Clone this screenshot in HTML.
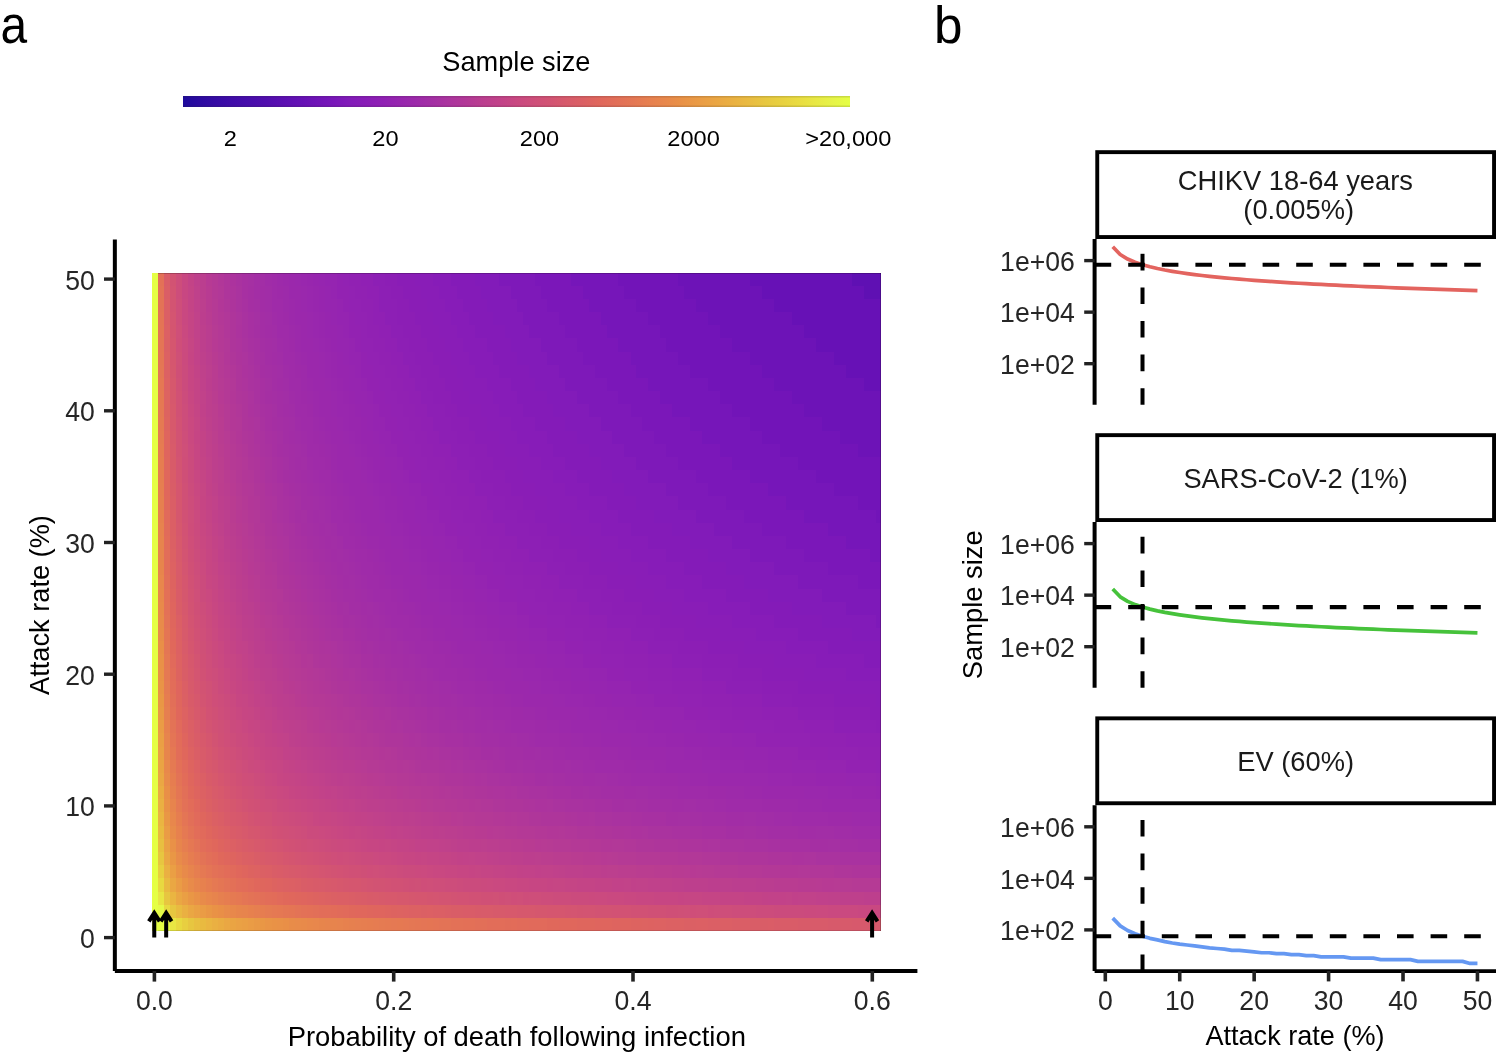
<!DOCTYPE html>
<html><head><meta charset="utf-8"><style>
html,body{margin:0;padding:0;background:#fff;}
#root{position:relative;width:1500px;height:1056px;overflow:hidden;background:#fff;font-family:"Liberation Sans",sans-serif;}
svg text{font-family:"Liberation Sans",sans-serif;}
</style></head><body><div id="root">
<div style="position:absolute;left:151.50px;top:273px;width:729.75px;height:13px;background:linear-gradient(90deg,#e5ff44 0.0px 5.9px,#e37157 5.9px 11.8px,#d95d67 11.8px 17.8px,#d25373 17.8px 23.8px,#cd4d7b 23.8px 29.8px,#c84782 29.8px 35.8px,#c34387 35.8px 41.8px,#be408c 41.8px 47.7px,#bb3e8f 47.7px 53.7px,#b73a94 53.7px 59.7px,#b43996 59.7px 65.7px,#b13799 65.7px 71.7px,#ae359b 71.7px 77.7px,#ac339e 77.7px 83.6px,#a932a0 83.6px 89.6px,#a730a2 89.6px 95.6px,#a530a3 95.6px 101.6px,#a32ea5 101.6px 107.6px,#a22ea6 107.6px 113.5px,#a02ca8 113.5px 119.5px,#9f2ba9 119.5px 125.5px,#9d2aaa 125.5px 131.5px,#9c29ab 131.5px 137.5px,#9b28ac 137.5px 143.5px,#9a28ad 143.5px 149.4px,#9927ae 149.4px 155.4px,#9826ae 155.4px 161.4px,#9725af 161.4px 167.4px,#9625b0 167.4px 173.4px,#9524b1 173.4px 185.3px,#9322b2 185.3px 191.3px,#9222b3 191.3px 197.3px,#9121b3 197.3px 209.3px,#9020b4 209.3px 221.2px,#8d1fb5 221.2px 233.2px,#8c1eb5 233.2px 245.2px,#8a1db6 245.2px 263.1px,#891db7 263.1px 281.1px,#871cb8 281.1px 299.0px,#841bb8 299.0px 322.9px,#821bb9 322.9px 346.9px,#7e19b9 346.9px 382.8px,#7b17b9 382.8px 418.7px,#7616b9 418.7px 466.5px,#7214b8 466.5px 526.3px,#6d13b7 526.3px 598.1px,#6711b6 598.1px 699.8px,#5f10b3 699.8px 729.7px)"></div>
<div style="position:absolute;left:151.50px;top:286px;width:729.75px;height:13px;background:linear-gradient(90deg,#e5ff44 0.0px 5.9px,#e37356 5.9px 11.8px,#da5e66 11.8px 17.8px,#d35472 17.8px 23.8px,#cd4d7b 23.8px 29.8px,#c84782 29.8px 35.8px,#c44486 35.8px 41.8px,#bf418b 41.8px 47.7px,#bb3e8f 47.7px 53.7px,#b83b92 53.7px 59.7px,#b43996 59.7px 65.7px,#b23898 65.7px 71.7px,#ae359b 71.7px 77.7px,#ad349d 77.7px 83.6px,#aa339f 83.6px 89.6px,#a730a2 89.6px 95.6px,#a52fa3 95.6px 101.6px,#a32ea5 101.6px 107.6px,#a22da6 107.6px 113.5px,#a12da7 113.5px 119.5px,#9f2ba9 119.5px 125.5px,#9e2aa9 125.5px 131.5px,#9d2aaa 131.5px 137.5px,#9b28ac 137.5px 149.4px,#9a28ad 149.4px 155.4px,#9927ae 155.4px 161.4px,#9826ae 161.4px 167.4px,#9725af 167.4px 173.4px,#9625b0 173.4px 179.4px,#9524b1 179.4px 185.3px,#9322b2 185.3px 197.3px,#9222b3 197.3px 203.3px,#9121b3 203.3px 215.3px,#9020b4 215.3px 227.2px,#8d1fb5 227.2px 239.2px,#8c1eb5 239.2px 251.1px,#8a1db6 251.1px 269.1px,#891db7 269.1px 287.0px,#871cb8 287.0px 305.0px,#841bb8 305.0px 328.9px,#821bb9 328.9px 358.8px,#7e19b9 358.8px 388.7px,#7b17b9 388.7px 430.6px,#7616b9 430.6px 472.5px,#7214b8 472.5px 532.3px,#6d13b7 532.3px 610.1px,#6711b6 610.1px 711.8px,#5f10b3 711.8px 729.7px)"></div>
<div style="position:absolute;left:151.50px;top:299px;width:729.75px;height:13px;background:linear-gradient(90deg,#e5ff44 0.0px 5.9px,#e37356 5.9px 11.8px,#db5f65 11.8px 17.8px,#d35472 17.8px 23.8px,#ce4e7a 23.8px 29.8px,#c94881 29.8px 35.8px,#c44486 35.8px 41.8px,#c0418b 41.8px 47.7px,#bc3f8e 47.7px 53.7px,#b83b92 53.7px 59.7px,#b53a95 59.7px 65.7px,#b23798 65.7px 71.7px,#af369a 71.7px 77.7px,#ad349c 77.7px 83.6px,#aa339f 83.6px 89.6px,#a831a1 89.6px 95.6px,#a52fa3 95.6px 101.6px,#a42fa4 101.6px 107.6px,#a22da6 107.6px 113.5px,#a12da7 113.5px 119.5px,#9f2ba9 119.5px 131.5px,#9d2aaa 131.5px 137.5px,#9c29ab 137.5px 143.5px,#9b28ac 143.5px 149.4px,#9a28ad 149.4px 155.4px,#9927ae 155.4px 161.4px,#9826ae 161.4px 167.4px,#9725af 167.4px 173.4px,#9625b0 173.4px 185.3px,#9524b1 185.3px 191.3px,#9322b2 191.3px 197.3px,#9222b3 197.3px 209.3px,#9121b3 209.3px 221.2px,#9020b4 221.2px 227.2px,#8d1fb5 227.2px 245.2px,#8c1eb5 245.2px 257.1px,#8a1db6 257.1px 275.1px,#891db7 275.1px 293.0px,#871cb8 293.0px 311.0px,#841bb8 311.0px 334.9px,#821bb9 334.9px 364.8px,#7e19b9 364.8px 394.7px,#7b17b9 394.7px 436.6px,#7616b9 436.6px 484.5px,#7214b8 484.5px 544.3px,#6d13b7 544.3px 622.1px,#6711b6 622.1px 729.7px)"></div>
<div style="position:absolute;left:151.50px;top:312px;width:729.75px;height:13px;background:linear-gradient(90deg,#e5ff44 0.0px 5.9px,#e47455 5.9px 11.8px,#db5f65 11.8px 17.8px,#d45571 17.8px 23.8px,#ce4e7a 23.8px 29.8px,#c94881 29.8px 35.8px,#c54585 35.8px 41.8px,#c1428a 41.8px 47.7px,#bc3e8e 47.7px 53.7px,#b93c91 53.7px 59.7px,#b53a95 59.7px 65.7px,#b33897 65.7px 71.7px,#b13799 71.7px 77.7px,#ae359b 77.7px 83.6px,#ac349e 83.6px 89.6px,#a932a0 89.6px 95.6px,#a730a2 95.6px 101.6px,#a530a3 101.6px 107.6px,#a32ea5 107.6px 113.5px,#a22ea6 113.5px 119.5px,#a02ca8 119.5px 125.5px,#9f2ba9 125.5px 131.5px,#9e2aa9 131.5px 137.5px,#9c29ab 137.5px 143.5px,#9b28ac 143.5px 155.4px,#9a28ad 155.4px 161.4px,#9927ae 161.4px 167.4px,#9826ae 167.4px 173.4px,#9725af 173.4px 179.4px,#9625b0 179.4px 185.3px,#9524b1 185.3px 197.3px,#9322b2 197.3px 203.3px,#9222b3 203.3px 215.3px,#9121b3 215.3px 221.2px,#9020b4 221.2px 233.2px,#8d1fb5 233.2px 245.2px,#8c1eb5 245.2px 263.1px,#8a1db6 263.1px 281.1px,#891db7 281.1px 299.0px,#871cb8 299.0px 317.0px,#841bb8 317.0px 340.9px,#821bb9 340.9px 370.8px,#7e19b9 370.8px 406.7px,#7b17b9 406.7px 448.6px,#7616b9 448.6px 496.4px,#7214b8 496.4px 556.3px,#6d13b7 556.3px 640.0px,#6711b6 640.0px 729.7px)"></div>
<div style="position:absolute;left:151.50px;top:325px;width:729.75px;height:13px;background:linear-gradient(90deg,#e5ff44 0.0px 5.9px,#e47554 5.9px 11.8px,#dc6064 11.8px 17.8px,#d45570 17.8px 23.8px,#cf4f79 23.8px 29.8px,#ca4980 29.8px 35.8px,#c54585 35.8px 41.8px,#c1428a 41.8px 47.7px,#bd3f8d 47.7px 53.7px,#ba3d90 53.7px 59.7px,#b63b94 59.7px 65.7px,#b43996 65.7px 71.7px,#b13799 71.7px 77.7px,#ae359b 77.7px 83.6px,#ac339e 83.6px 89.6px,#a932a0 89.6px 95.6px,#a730a2 95.6px 101.6px,#a52fa3 101.6px 107.6px,#a32ea5 107.6px 113.5px,#a22da6 113.5px 119.5px,#a12da7 119.5px 125.5px,#9f2ba9 125.5px 137.5px,#9d2aaa 137.5px 143.5px,#9c29ab 143.5px 149.4px,#9b28ac 149.4px 155.4px,#9a28ad 155.4px 161.4px,#9927ae 161.4px 167.4px,#9826ae 167.4px 173.4px,#9725af 173.4px 185.3px,#9625b0 185.3px 191.3px,#9524b1 191.3px 197.3px,#9322b2 197.3px 209.3px,#9222b3 209.3px 215.3px,#9121b3 215.3px 227.2px,#9020b4 227.2px 239.2px,#8d1fb5 239.2px 251.1px,#8c1eb5 251.1px 269.1px,#8a1db6 269.1px 287.0px,#891db7 287.0px 305.0px,#871cb8 305.0px 322.9px,#841bb8 322.9px 352.8px,#821bb9 352.8px 376.8px,#7e19b9 376.8px 412.7px,#7b17b9 412.7px 454.6px,#7616b9 454.6px 508.4px,#7214b8 508.4px 568.2px,#6d13b7 568.2px 652.0px,#6711b6 652.0px 729.7px)"></div>
<div style="position:absolute;left:151.50px;top:338px;width:729.75px;height:14px;background:linear-gradient(90deg,#e5ff44 0.0px 5.9px,#e47555 5.9px 11.8px,#db6064 11.8px 17.8px,#d5566f 17.8px 23.8px,#cf4e79 23.8px 29.8px,#cb4a7f 29.8px 35.8px,#c64684 35.8px 41.8px,#c24289 41.8px 47.7px,#bd3f8d 47.7px 53.7px,#ba3d90 53.7px 59.7px,#b73a94 59.7px 65.7px,#b43996 65.7px 71.7px,#b23898 71.7px 77.7px,#ae359b 77.7px 83.6px,#ad349d 83.6px 89.6px,#aa339f 89.6px 95.6px,#a831a1 95.6px 101.6px,#a730a2 101.6px 107.6px,#a42fa4 107.6px 113.5px,#a32ea5 113.5px 119.5px,#a22ea6 119.5px 125.5px,#a02ca8 125.5px 131.5px,#9f2ba9 131.5px 137.5px,#9e2aa9 137.5px 143.5px,#9c29ab 143.5px 149.4px,#9b28ac 149.4px 161.4px,#9a28ad 161.4px 167.4px,#9927ae 167.4px 173.4px,#9826ae 173.4px 179.4px,#9725af 179.4px 185.3px,#9625b0 185.3px 197.3px,#9524b1 197.3px 203.3px,#9322b2 203.3px 209.3px,#9222b3 209.3px 221.2px,#9121b3 221.2px 233.2px,#9020b4 233.2px 245.2px,#8d1fb5 245.2px 257.1px,#8c1eb5 257.1px 275.1px,#8a1db6 275.1px 293.0px,#891db7 293.0px 311.0px,#871cb8 311.0px 334.9px,#841bb8 334.9px 358.8px,#821bb9 358.8px 388.7px,#7e19b9 388.7px 424.6px,#7b17b9 424.6px 466.5px,#7616b9 466.5px 514.4px,#7214b8 514.4px 580.2px,#6d13b7 580.2px 663.9px,#6711b6 663.9px 729.7px)"></div>
<div style="position:absolute;left:151.50px;top:352px;width:729.75px;height:13px;background:linear-gradient(90deg,#e5ff44 0.0px 5.9px,#e47654 5.9px 11.8px,#dc6163 11.8px 17.8px,#d5566f 17.8px 23.8px,#cf5077 23.8px 29.8px,#cb4a7e 29.8px 35.8px,#c64584 35.8px 41.8px,#c24289 41.8px 47.7px,#be408c 47.7px 53.7px,#bb3e8f 53.7px 59.7px,#b83b92 59.7px 65.7px,#b53a95 65.7px 71.7px,#b23798 71.7px 77.7px,#af369a 77.7px 83.6px,#ad349c 83.6px 89.6px,#ac349e 89.6px 95.6px,#a932a0 95.6px 101.6px,#a730a2 101.6px 107.6px,#a530a3 107.6px 113.5px,#a32ea5 113.5px 119.5px,#a22da6 119.5px 125.5px,#a12da7 125.5px 131.5px,#9f2ba9 131.5px 143.5px,#9d2aaa 143.5px 149.4px,#9c29ab 149.4px 155.4px,#9b28ac 155.4px 167.4px,#9a28ad 167.4px 173.4px,#9927ae 173.4px 179.4px,#9826ae 179.4px 185.3px,#9725af 185.3px 191.3px,#9625b0 191.3px 197.3px,#9524b1 197.3px 209.3px,#9322b2 209.3px 215.3px,#9222b3 215.3px 227.2px,#9121b3 227.2px 239.2px,#9020b4 239.2px 251.1px,#8d1fb5 251.1px 263.1px,#8c1eb5 263.1px 281.1px,#8a1db6 281.1px 299.0px,#891db7 299.0px 317.0px,#871cb8 317.0px 340.9px,#841bb8 340.9px 364.8px,#821bb9 364.8px 394.7px,#7e19b9 394.7px 430.6px,#7b17b9 430.6px 478.5px,#7616b9 478.5px 526.3px,#7214b8 526.3px 598.1px,#6d13b7 598.1px 681.9px,#6711b6 681.9px 729.7px)"></div>
<div style="position:absolute;left:151.50px;top:365px;width:729.75px;height:13px;background:linear-gradient(90deg,#e5ff44 0.0px 5.9px,#e47754 5.9px 11.8px,#dc6163 11.8px 17.8px,#d5576e 17.8px 23.8px,#cf4f77 23.8px 29.8px,#cb4b7d 29.8px 35.8px,#c74683 35.8px 41.8px,#c34387 41.8px 47.7px,#bf418b 47.7px 53.7px,#bc3f8e 53.7px 59.7px,#b93c91 59.7px 65.7px,#b53a95 65.7px 71.7px,#b33897 71.7px 77.7px,#b13799 77.7px 83.6px,#ae359b 83.6px 89.6px,#ac339e 89.6px 95.6px,#aa339f 95.6px 101.6px,#a831a1 101.6px 107.6px,#a52fa3 107.6px 113.5px,#a42fa4 113.5px 119.5px,#a32ea5 119.5px 125.5px,#a22ea6 125.5px 131.5px,#a02ca8 131.5px 137.5px,#9f2ba9 137.5px 143.5px,#9e2aa9 143.5px 149.4px,#9d2aaa 149.4px 155.4px,#9b28ac 155.4px 167.4px,#9a28ad 167.4px 173.4px,#9927ae 173.4px 179.4px,#9826ae 179.4px 185.3px,#9725af 185.3px 197.3px,#9625b0 197.3px 203.3px,#9524b1 203.3px 209.3px,#9322b2 209.3px 221.2px,#9222b3 221.2px 233.2px,#9121b3 233.2px 245.2px,#9020b4 245.2px 257.1px,#8d1fb5 257.1px 269.1px,#8c1eb5 269.1px 287.0px,#8a1db6 287.0px 305.0px,#891db7 305.0px 322.9px,#871cb8 322.9px 346.9px,#841bb8 346.9px 376.8px,#821bb9 376.8px 406.7px,#7e19b9 406.7px 442.6px,#7b17b9 442.6px 484.5px,#7616b9 484.5px 538.3px,#7214b8 538.3px 610.1px,#6d13b7 610.1px 693.9px,#6711b6 693.9px 729.7px)"></div>
<div style="position:absolute;left:151.50px;top:378px;width:729.75px;height:13px;background:linear-gradient(90deg,#e5ff44 0.0px 5.9px,#e57853 5.9px 11.8px,#dd6262 11.8px 17.8px,#d6586d 17.8px 23.8px,#d05076 23.8px 29.8px,#cb4b7d 29.8px 35.8px,#c74683 35.8px 41.8px,#c44486 41.8px 47.7px,#c0418b 47.7px 53.7px,#bc3e8e 53.7px 59.7px,#b93c91 59.7px 65.7px,#b63b94 65.7px 71.7px,#b43996 71.7px 77.7px,#b23898 77.7px 83.6px,#ae359b 83.6px 89.6px,#ad349d 89.6px 95.6px,#aa339f 95.6px 101.6px,#a932a0 101.6px 107.6px,#a730a2 107.6px 113.5px,#a530a3 113.5px 119.5px,#a32ea5 119.5px 125.5px,#a22da6 125.5px 131.5px,#a12da7 131.5px 137.5px,#9f2ba9 137.5px 149.4px,#9d2aaa 149.4px 155.4px,#9c29ab 155.4px 161.4px,#9b28ac 161.4px 173.4px,#9a28ad 173.4px 179.4px,#9927ae 179.4px 185.3px,#9826ae 185.3px 191.3px,#9725af 191.3px 197.3px,#9625b0 197.3px 209.3px,#9524b1 209.3px 215.3px,#9322b2 215.3px 227.2px,#9222b3 227.2px 239.2px,#9121b3 239.2px 251.1px,#9020b4 251.1px 263.1px,#8d1fb5 263.1px 275.1px,#8c1eb5 275.1px 293.0px,#8a1db6 293.0px 311.0px,#891db7 311.0px 334.9px,#871cb8 334.9px 358.8px,#841bb8 358.8px 382.8px,#821bb9 382.8px 412.7px,#7e19b9 412.7px 454.6px,#7b17b9 454.6px 496.4px,#7616b9 496.4px 556.3px,#7214b8 556.3px 622.1px,#6d13b7 622.1px 711.8px,#6711b6 711.8px 729.7px)"></div>
<div style="position:absolute;left:151.50px;top:391px;width:729.75px;height:13px;background:linear-gradient(90deg,#e5ff44 0.0px 5.9px,#e57952 5.9px 11.8px,#dd6361 11.8px 17.8px,#d6586d 17.8px 23.8px,#d15175 23.8px 29.8px,#cc4c7c 29.8px 35.8px,#c84782 35.8px 41.8px,#c44486 41.8px 47.7px,#c1428a 47.7px 53.7px,#bd3f8d 53.7px 59.7px,#ba3d90 59.7px 65.7px,#b73a94 65.7px 71.7px,#b43996 71.7px 77.7px,#b23798 77.7px 83.6px,#af369a 83.6px 89.6px,#ae359b 89.6px 95.6px,#ac349e 95.6px 101.6px,#a932a0 101.6px 107.6px,#a730a2 107.6px 113.5px,#a52fa3 113.5px 119.5px,#a42fa4 119.5px 125.5px,#a32ea5 125.5px 131.5px,#a22ea6 131.5px 137.5px,#a02ca8 137.5px 143.5px,#9f2ba9 143.5px 149.4px,#9e2aa9 149.4px 155.4px,#9d2aaa 155.4px 161.4px,#9c29ab 161.4px 167.4px,#9b28ac 167.4px 179.4px,#9a28ad 179.4px 185.3px,#9927ae 185.3px 191.3px,#9826ae 191.3px 197.3px,#9725af 197.3px 203.3px,#9625b0 203.3px 215.3px,#9524b1 215.3px 221.2px,#9322b2 221.2px 233.2px,#9222b3 233.2px 245.2px,#9121b3 245.2px 257.1px,#9020b4 257.1px 269.1px,#8d1fb5 269.1px 281.1px,#8c1eb5 281.1px 299.0px,#8a1db6 299.0px 317.0px,#891db7 317.0px 340.9px,#871cb8 340.9px 364.8px,#841bb8 364.8px 394.7px,#821bb9 394.7px 424.6px,#7e19b9 424.6px 466.5px,#7b17b9 466.5px 508.4px,#7616b9 508.4px 568.2px,#7214b8 568.2px 640.0px,#6d13b7 640.0px 729.7px)"></div>
<div style="position:absolute;left:151.50px;top:404px;width:729.75px;height:13px;background:linear-gradient(90deg,#e5ff44 0.0px 5.9px,#e57953 5.9px 11.8px,#dd6360 11.8px 17.8px,#d7596c 17.8px 23.8px,#d15175 23.8px 29.8px,#cd4d7b 29.8px 35.8px,#c94881 35.8px 41.8px,#c54585 41.8px 47.7px,#c1418a 47.7px 53.7px,#bd3f8d 53.7px 59.7px,#bb3e8f 59.7px 65.7px,#b83b92 65.7px 71.7px,#b53a95 71.7px 77.7px,#b33897 77.7px 83.6px,#b13799 83.6px 89.6px,#ae359b 89.6px 95.6px,#ac339e 95.6px 101.6px,#aa339f 101.6px 107.6px,#a831a1 107.6px 113.5px,#a730a2 113.5px 119.5px,#a530a3 119.5px 125.5px,#a32ea5 125.5px 131.5px,#a22da6 131.5px 137.5px,#a12da7 137.5px 143.5px,#9f2ba9 143.5px 155.4px,#9e2aa9 155.4px 161.4px,#9c29ab 161.4px 167.4px,#9b28ac 167.4px 179.4px,#9a28ad 179.4px 185.3px,#9927ae 185.3px 197.3px,#9826ae 197.3px 203.3px,#9725af 203.3px 209.3px,#9625b0 209.3px 221.2px,#9524b1 221.2px 227.2px,#9322b2 227.2px 239.2px,#9222b3 239.2px 251.1px,#9121b3 251.1px 263.1px,#9020b4 263.1px 275.1px,#8d1fb5 275.1px 293.0px,#8c1eb5 293.0px 305.0px,#8a1db6 305.0px 328.9px,#891db7 328.9px 346.9px,#871cb8 346.9px 370.8px,#841bb8 370.8px 400.7px,#821bb9 400.7px 436.6px,#7e19b9 436.6px 478.5px,#7b17b9 478.5px 520.4px,#7616b9 520.4px 580.2px,#7214b8 580.2px 652.0px,#6d13b7 652.0px 729.7px)"></div>
<div style="position:absolute;left:151.50px;top:417px;width:729.75px;height:14px;background:linear-gradient(90deg,#e5ff44 0.0px 5.9px,#e57a52 5.9px 11.8px,#de645f 11.8px 17.8px,#d7596c 17.8px 23.8px,#d25274 23.8px 29.8px,#cd4d7b 29.8px 35.8px,#ca4980 35.8px 41.8px,#c64684 41.8px 47.7px,#c24289 47.7px 53.7px,#be408c 53.7px 59.7px,#bb3e8f 59.7px 65.7px,#b93c91 65.7px 71.7px,#b53a95 71.7px 77.7px,#b33897 77.7px 83.6px,#b23898 83.6px 89.6px,#ae359b 89.6px 95.6px,#ad349c 95.6px 101.6px,#ac349e 101.6px 107.6px,#a932a0 107.6px 113.5px,#a730a2 113.5px 119.5px,#a52fa3 119.5px 125.5px,#a42fa4 125.5px 131.5px,#a32ea5 131.5px 137.5px,#a22ea6 137.5px 143.5px,#a02ca8 143.5px 149.4px,#9f2ba9 149.4px 161.4px,#9d2aaa 161.4px 167.4px,#9c29ab 167.4px 173.4px,#9b28ac 173.4px 185.3px,#9a28ad 185.3px 191.3px,#9927ae 191.3px 197.3px,#9826ae 197.3px 209.3px,#9725af 209.3px 215.3px,#9625b0 215.3px 221.2px,#9524b1 221.2px 233.2px,#9322b2 233.2px 245.2px,#9222b3 245.2px 257.1px,#9121b3 257.1px 269.1px,#9020b4 269.1px 281.1px,#8d1fb5 281.1px 299.0px,#8c1eb5 299.0px 317.0px,#8a1db6 317.0px 334.9px,#891db7 334.9px 358.8px,#871cb8 358.8px 382.8px,#841bb8 382.8px 412.7px,#821bb9 412.7px 448.6px,#7e19b9 448.6px 490.4px,#7b17b9 490.4px 538.3px,#7616b9 538.3px 598.1px,#7214b8 598.1px 669.9px,#6d13b7 669.9px 729.7px)"></div>
<div style="position:absolute;left:151.50px;top:431px;width:729.75px;height:13px;background:linear-gradient(90deg,#e5ff44 0.0px 5.9px,#e57b52 5.9px 11.8px,#df655e 11.8px 17.8px,#d75a6b 17.8px 23.8px,#d25373 23.8px 29.8px,#ce4e7a 29.8px 35.8px,#ca4980 35.8px 41.8px,#c64584 41.8px 47.7px,#c34387 47.7px 53.7px,#bf418b 53.7px 59.7px,#bc3f8e 59.7px 65.7px,#b93c91 65.7px 71.7px,#b73b94 71.7px 77.7px,#b43996 77.7px 83.6px,#b23798 83.6px 89.6px,#af369a 89.6px 95.6px,#ae359b 95.6px 101.6px,#ac339e 101.6px 107.6px,#aa339f 107.6px 113.5px,#a831a1 113.5px 119.5px,#a730a2 119.5px 125.5px,#a530a3 125.5px 131.5px,#a32ea5 131.5px 137.5px,#a22da6 137.5px 143.5px,#a12da7 143.5px 149.4px,#a02ca8 149.4px 155.4px,#9f2ba9 155.4px 161.4px,#9e2aa9 161.4px 167.4px,#9d2aaa 167.4px 173.4px,#9c29ab 173.4px 179.4px,#9b28ac 179.4px 191.3px,#9a28ad 191.3px 197.3px,#9927ae 197.3px 203.3px,#9826ae 203.3px 209.3px,#9725af 209.3px 221.2px,#9625b0 221.2px 227.2px,#9524b1 227.2px 239.2px,#9322b2 239.2px 251.1px,#9222b3 251.1px 263.1px,#9121b3 263.1px 275.1px,#9020b4 275.1px 287.0px,#8d1fb5 287.0px 305.0px,#8c1eb5 305.0px 322.9px,#8a1db6 322.9px 346.9px,#891db7 346.9px 364.8px,#871cb8 364.8px 394.7px,#841bb8 394.7px 424.6px,#821bb9 424.6px 460.5px,#7e19b9 460.5px 502.4px,#7b17b9 502.4px 550.3px,#7616b9 550.3px 610.1px,#7214b8 610.1px 687.9px,#6d13b7 687.9px 729.7px)"></div>
<div style="position:absolute;left:151.50px;top:444px;width:729.75px;height:13px;background:linear-gradient(90deg,#e5ff44 0.0px 5.9px,#e67c51 5.9px 11.8px,#df655e 11.8px 17.8px,#d85b6a 17.8px 23.8px,#d25373 23.8px 29.8px,#cf4f79 29.8px 35.8px,#cb4a7f 35.8px 41.8px,#c74683 41.8px 47.7px,#c34387 47.7px 53.7px,#c0418b 53.7px 59.7px,#bd3f8d 59.7px 65.7px,#ba3d90 65.7px 71.7px,#b83b93 71.7px 77.7px,#b53a95 77.7px 83.6px,#b33897 83.6px 89.6px,#b13799 89.6px 95.6px,#ae359b 95.6px 101.6px,#ad349d 101.6px 107.6px,#aa339f 107.6px 113.5px,#a932a0 113.5px 119.5px,#a730a2 119.5px 125.5px,#a52fa3 125.5px 131.5px,#a42fa4 131.5px 137.5px,#a32ea5 137.5px 143.5px,#a22ea6 143.5px 149.4px,#a12da7 149.4px 155.4px,#9f2ba9 155.4px 167.4px,#9e2aa9 167.4px 173.4px,#9d2aaa 173.4px 179.4px,#9c29ab 179.4px 185.3px,#9b28ac 185.3px 197.3px,#9a28ad 197.3px 203.3px,#9927ae 203.3px 209.3px,#9826ae 209.3px 215.3px,#9725af 215.3px 227.2px,#9625b0 227.2px 233.2px,#9524b1 233.2px 245.2px,#9322b2 245.2px 257.1px,#9222b3 257.1px 269.1px,#9121b3 269.1px 281.1px,#9020b4 281.1px 299.0px,#8d1fb5 299.0px 317.0px,#8c1eb5 317.0px 334.9px,#8a1db6 334.9px 352.8px,#891db7 352.8px 376.8px,#871cb8 376.8px 400.7px,#841bb8 400.7px 436.6px,#821bb9 436.6px 472.5px,#7e19b9 472.5px 514.4px,#7b17b9 514.4px 568.2px,#7616b9 568.2px 628.0px,#7214b8 628.0px 705.8px,#6d13b7 705.8px 729.7px)"></div>
<div style="position:absolute;left:151.50px;top:457px;width:729.75px;height:13px;background:linear-gradient(90deg,#e5ff44 0.0px 5.9px,#e67d50 5.9px 11.8px,#df665d 11.8px 17.8px,#d85b69 17.8px 23.8px,#d35472 23.8px 29.8px,#cf4e79 29.8px 35.8px,#cb4b7d 35.8px 41.8px,#c74683 41.8px 47.7px,#c44486 47.7px 53.7px,#c1428a 53.7px 59.7px,#bd3f8d 59.7px 65.7px,#bb3e8f 65.7px 71.7px,#b83b92 71.7px 77.7px,#b53a95 77.7px 83.6px,#b43996 83.6px 89.6px,#b23898 89.6px 95.6px,#af369a 95.6px 101.6px,#ae359b 101.6px 107.6px,#ac339e 107.6px 113.5px,#aa339f 113.5px 119.5px,#a831a1 119.5px 125.5px,#a730a2 125.5px 131.5px,#a530a3 131.5px 137.5px,#a32ea5 137.5px 143.5px,#a22da6 143.5px 149.4px,#a22ea6 149.4px 155.4px,#a02ca8 155.4px 161.4px,#9f2ba9 161.4px 173.4px,#9e2aa9 173.4px 179.4px,#9c29ab 179.4px 185.3px,#9b28ac 185.3px 203.3px,#9a28ad 203.3px 209.3px,#9927ae 209.3px 215.3px,#9826ae 215.3px 221.2px,#9725af 221.2px 233.2px,#9625b0 233.2px 245.2px,#9524b1 245.2px 251.1px,#9322b2 251.1px 263.1px,#9222b3 263.1px 275.1px,#9121b3 275.1px 293.0px,#9020b4 293.0px 305.0px,#8d1fb5 305.0px 322.9px,#8c1eb5 322.9px 340.9px,#8a1db6 340.9px 364.8px,#891db7 364.8px 388.7px,#871cb8 388.7px 412.7px,#841bb8 412.7px 448.6px,#821bb9 448.6px 484.5px,#7e19b9 484.5px 526.3px,#7b17b9 526.3px 580.2px,#7616b9 580.2px 646.0px,#7214b8 646.0px 729.7px)"></div>
<div style="position:absolute;left:151.50px;top:470px;width:729.75px;height:13px;background:linear-gradient(90deg,#e5ff44 0.0px 5.9px,#e67e50 5.9px 11.8px,#e0675c 11.8px 17.8px,#d95c68 17.8px 23.8px,#d45571 23.8px 29.8px,#cf4f77 29.8px 35.8px,#cb4b7d 35.8px 41.8px,#c84782 41.8px 47.7px,#c54585 47.7px 53.7px,#c24289 53.7px 59.7px,#be408c 59.7px 65.7px,#bc3f8e 65.7px 71.7px,#b93c91 71.7px 77.7px,#b73b94 77.7px 83.6px,#b43996 83.6px 89.6px,#b23798 89.6px 95.6px,#b13799 95.6px 101.6px,#ae359b 101.6px 107.6px,#ad349d 107.6px 113.5px,#aa339f 113.5px 119.5px,#a932a0 119.5px 125.5px,#a730a2 125.5px 131.5px,#a52fa3 131.5px 137.5px,#a42fa4 137.5px 143.5px,#a32ea5 143.5px 149.4px,#a22da6 149.4px 155.4px,#a12da7 155.4px 161.4px,#a02ca8 161.4px 167.4px,#9f2ba9 167.4px 179.4px,#9d2aaa 179.4px 185.3px,#9c29ab 185.3px 191.3px,#9b28ac 191.3px 209.3px,#9a28ad 209.3px 215.3px,#9927ae 215.3px 221.2px,#9826ae 221.2px 227.2px,#9725af 227.2px 239.2px,#9625b0 239.2px 251.1px,#9524b1 251.1px 257.1px,#9322b2 257.1px 269.1px,#9222b3 269.1px 287.0px,#9121b3 287.0px 299.0px,#9020b4 299.0px 317.0px,#8d1fb5 317.0px 328.9px,#8c1eb5 328.9px 352.8px,#8a1db6 352.8px 370.8px,#891db7 370.8px 400.7px,#871cb8 400.7px 424.6px,#841bb8 424.6px 460.5px,#821bb9 460.5px 496.4px,#7e19b9 496.4px 544.3px,#7b17b9 544.3px 598.1px,#7616b9 598.1px 663.9px,#7214b8 663.9px 729.7px)"></div>
<div style="position:absolute;left:151.50px;top:483px;width:729.75px;height:13px;background:linear-gradient(90deg,#e5ff44 0.0px 5.9px,#e67f50 5.9px 11.8px,#e0675c 11.8px 17.8px,#d95d67 17.8px 23.8px,#d5566f 23.8px 29.8px,#d05076 29.8px 35.8px,#cc4c7c 35.8px 41.8px,#c94881 41.8px 47.7px,#c64684 47.7px 53.7px,#c24288 53.7px 59.7px,#bf418b 59.7px 65.7px,#bc3e8e 65.7px 71.7px,#ba3d90 71.7px 77.7px,#b83b93 77.7px 83.6px,#b53a95 83.6px 89.6px,#b33897 89.6px 95.6px,#b23898 95.6px 101.6px,#af369a 101.6px 107.6px,#ae359b 107.6px 113.5px,#ac339e 113.5px 119.5px,#aa339f 119.5px 125.5px,#a932a0 125.5px 131.5px,#a730a2 131.5px 137.5px,#a52fa3 137.5px 143.5px,#a42fa4 143.5px 149.4px,#a32ea5 149.4px 155.4px,#a22da6 155.4px 161.4px,#a12da7 161.4px 167.4px,#a02ca8 167.4px 173.4px,#9f2ba9 173.4px 179.4px,#9e2aa9 179.4px 185.3px,#9d2aaa 185.3px 191.3px,#9c29ab 191.3px 197.3px,#9b28ac 197.3px 215.3px,#9a28ad 215.3px 221.2px,#9927ae 221.2px 227.2px,#9826ae 227.2px 239.2px,#9725af 239.2px 245.2px,#9625b0 245.2px 257.1px,#9524b1 257.1px 269.1px,#9322b2 269.1px 281.1px,#9222b3 281.1px 293.0px,#9121b3 293.0px 305.0px,#9020b4 305.0px 322.9px,#8d1fb5 322.9px 340.9px,#8c1eb5 340.9px 358.8px,#8a1db6 358.8px 382.8px,#891db7 382.8px 412.7px,#871cb8 412.7px 436.6px,#841bb8 436.6px 472.5px,#821bb9 472.5px 514.4px,#7e19b9 514.4px 556.3px,#7b17b9 556.3px 616.1px,#7616b9 616.1px 681.9px,#7214b8 681.9px 729.7px)"></div>
<div style="position:absolute;left:151.50px;top:496px;width:729.75px;height:14px;background:linear-gradient(90deg,#e5ff44 0.0px 5.9px,#e6804f 5.9px 11.8px,#e0685b 11.8px 17.8px,#da5e66 17.8px 23.8px,#d5566f 23.8px 29.8px,#d05076 29.8px 35.8px,#cd4d7b 35.8px 41.8px,#ca4980 41.8px 47.7px,#c64584 47.7px 53.7px,#c34387 53.7px 59.7px,#c1428a 59.7px 65.7px,#bd3f8d 65.7px 71.7px,#bb3e8f 71.7px 77.7px,#b93c91 77.7px 83.6px,#b63b94 83.6px 89.6px,#b43996 89.6px 95.6px,#b23798 95.6px 101.6px,#b13799 101.6px 107.6px,#ae359b 107.6px 113.5px,#ad349d 113.5px 119.5px,#ac349e 119.5px 125.5px,#a932a0 125.5px 131.5px,#a831a1 131.5px 137.5px,#a730a2 137.5px 143.5px,#a530a3 143.5px 149.4px,#a32ea5 149.4px 161.4px,#a22ea6 161.4px 167.4px,#a12da7 167.4px 173.4px,#a02ca8 173.4px 179.4px,#9f2ba9 179.4px 185.3px,#9e2aa9 185.3px 191.3px,#9d2aaa 191.3px 197.3px,#9c29ab 197.3px 203.3px,#9b28ac 203.3px 221.2px,#9a28ad 221.2px 227.2px,#9927ae 227.2px 233.2px,#9826ae 233.2px 245.2px,#9725af 245.2px 251.1px,#9625b0 251.1px 263.1px,#9524b1 263.1px 275.1px,#9322b2 275.1px 287.0px,#9222b3 287.0px 299.0px,#9121b3 299.0px 317.0px,#9020b4 317.0px 334.9px,#8d1fb5 334.9px 352.8px,#8c1eb5 352.8px 370.8px,#8a1db6 370.8px 394.7px,#891db7 394.7px 424.6px,#871cb8 424.6px 454.6px,#841bb8 454.6px 484.5px,#821bb9 484.5px 526.3px,#7e19b9 526.3px 574.2px,#7b17b9 574.2px 634.0px,#7616b9 634.0px 705.8px,#7214b8 705.8px 729.7px)"></div>
<div style="position:absolute;left:151.50px;top:510px;width:729.75px;height:13px;background:linear-gradient(90deg,#e5ff44 0.0px 5.9px,#e7814e 5.9px 11.8px,#e16a5b 11.8px 17.8px,#db5f65 17.8px 23.8px,#d5576e 23.8px 29.8px,#d15175 29.8px 35.8px,#ce4e7a 35.8px 41.8px,#cb4a7f 41.8px 47.7px,#c74683 47.7px 53.7px,#c44486 53.7px 59.7px,#c1418a 59.7px 65.7px,#be408c 65.7px 71.7px,#bc3f8e 71.7px 77.7px,#b93c91 77.7px 83.6px,#b73a94 83.6px 89.6px,#b53a95 89.6px 95.6px,#b33897 95.6px 101.6px,#b23898 101.6px 107.6px,#af369a 107.6px 113.5px,#ae359b 113.5px 119.5px,#ac339e 119.5px 125.5px,#aa339f 125.5px 131.5px,#a932a0 131.5px 137.5px,#a730a2 137.5px 143.5px,#a52fa3 143.5px 149.4px,#a530a3 149.4px 155.4px,#a32ea5 155.4px 161.4px,#a22da6 161.4px 167.4px,#a22ea6 167.4px 173.4px,#a12da7 173.4px 179.4px,#9f2ba9 179.4px 191.3px,#9e2aa9 191.3px 197.3px,#9d2aaa 197.3px 203.3px,#9c29ab 203.3px 209.3px,#9b28ac 209.3px 227.2px,#9a28ad 227.2px 233.2px,#9927ae 233.2px 245.2px,#9826ae 245.2px 251.1px,#9725af 251.1px 263.1px,#9625b0 263.1px 275.1px,#9524b1 275.1px 287.0px,#9322b2 287.0px 299.0px,#9222b3 299.0px 311.0px,#9121b3 311.0px 328.9px,#9020b4 328.9px 340.9px,#8d1fb5 340.9px 364.8px,#8c1eb5 364.8px 382.8px,#8a1db6 382.8px 406.7px,#891db7 406.7px 436.6px,#871cb8 436.6px 466.5px,#841bb8 466.5px 502.4px,#821bb9 502.4px 544.3px,#7e19b9 544.3px 592.1px,#7b17b9 592.1px 652.0px,#7616b9 652.0px 723.8px,#7214b8 723.8px 729.7px)"></div>
<div style="position:absolute;left:151.50px;top:523px;width:729.75px;height:13px;background:linear-gradient(90deg,#e5ff44 0.0px 5.9px,#e7834e 5.9px 11.8px,#e16b5a 11.8px 17.8px,#db5f65 17.8px 23.8px,#d6586d 23.8px 29.8px,#d25274 29.8px 35.8px,#ce4d7a 35.8px 41.8px,#cb4a7e 41.8px 47.7px,#c84782 47.7px 53.7px,#c54585 53.7px 59.7px,#c24289 59.7px 65.7px,#bf418b 65.7px 71.7px,#bc3e8e 71.7px 77.7px,#ba3d90 77.7px 83.6px,#b83b92 83.6px 89.6px,#b63b94 89.6px 95.6px,#b43996 95.6px 101.6px,#b23798 101.6px 107.6px,#b13799 107.6px 113.5px,#ae359b 113.5px 119.5px,#ad349c 119.5px 125.5px,#ac349e 125.5px 131.5px,#aa339f 131.5px 137.5px,#a932a0 137.5px 143.5px,#a730a2 143.5px 149.4px,#a52fa3 149.4px 155.4px,#a42fa4 155.4px 161.4px,#a32ea5 161.4px 167.4px,#a22da6 167.4px 173.4px,#a22ea6 173.4px 179.4px,#a12da7 179.4px 185.3px,#9f2ba9 185.3px 197.3px,#9e2aa9 197.3px 203.3px,#9d2aaa 203.3px 209.3px,#9c29ab 209.3px 215.3px,#9b28ac 215.3px 233.2px,#9a28ad 233.2px 239.2px,#9927ae 239.2px 251.1px,#9826ae 251.1px 257.1px,#9725af 257.1px 269.1px,#9625b0 269.1px 281.1px,#9524b1 281.1px 293.0px,#9322b2 293.0px 305.0px,#9222b3 305.0px 322.9px,#9121b3 322.9px 334.9px,#9020b4 334.9px 352.8px,#8d1fb5 352.8px 376.8px,#8c1eb5 376.8px 394.7px,#8a1db6 394.7px 418.7px,#891db7 418.7px 448.6px,#871cb8 448.6px 478.5px,#841bb8 478.5px 520.4px,#821bb9 520.4px 562.2px,#7e19b9 562.2px 610.1px,#7b17b9 610.1px 675.9px,#7616b9 675.9px 729.7px)"></div>
<div style="position:absolute;left:151.50px;top:536px;width:729.75px;height:13px;background:linear-gradient(90deg,#e5ff44 0.0px 5.9px,#e7844d 5.9px 11.8px,#e26c59 11.8px 17.8px,#db6064 17.8px 23.8px,#d7596c 23.8px 29.8px,#d25373 29.8px 35.8px,#cf4e79 35.8px 41.8px,#cb4b7d 41.8px 47.7px,#c94881 47.7px 53.7px,#c64684 53.7px 59.7px,#c34387 59.7px 65.7px,#c1428a 65.7px 71.7px,#bd3f8d 71.7px 77.7px,#bb3e8f 77.7px 83.6px,#b93c91 83.6px 89.6px,#b73a94 89.6px 95.6px,#b53a95 95.6px 101.6px,#b33897 101.6px 107.6px,#b23898 107.6px 113.5px,#af369a 113.5px 119.5px,#ae359b 119.5px 125.5px,#ad349d 125.5px 131.5px,#ac349e 131.5px 137.5px,#a932a0 137.5px 143.5px,#a831a1 143.5px 149.4px,#a730a2 149.4px 155.4px,#a52fa3 155.4px 161.4px,#a42fa4 161.4px 167.4px,#a32ea5 167.4px 173.4px,#a22da6 173.4px 179.4px,#a22ea6 179.4px 185.3px,#a12da7 185.3px 191.3px,#9f2ba9 191.3px 203.3px,#9e2aa9 203.3px 209.3px,#9d2aaa 209.3px 215.3px,#9c29ab 215.3px 227.2px,#9b28ac 227.2px 239.2px,#9a28ad 239.2px 251.1px,#9927ae 251.1px 257.1px,#9826ae 257.1px 269.1px,#9725af 269.1px 281.1px,#9625b0 281.1px 293.0px,#9524b1 293.0px 305.0px,#9322b2 305.0px 317.0px,#9222b3 317.0px 328.9px,#9121b3 328.9px 346.9px,#9020b4 346.9px 364.8px,#8d1fb5 364.8px 388.7px,#8c1eb5 388.7px 406.7px,#8a1db6 406.7px 436.6px,#891db7 436.6px 466.5px,#871cb8 466.5px 496.4px,#841bb8 496.4px 538.3px,#821bb9 538.3px 580.2px,#7e19b9 580.2px 634.0px,#7b17b9 634.0px 693.9px,#7616b9 693.9px 729.7px)"></div>
<div style="position:absolute;left:151.50px;top:549px;width:729.75px;height:13px;background:linear-gradient(90deg,#e5ff44 0.0px 5.9px,#e7844d 5.9px 11.8px,#e26d59 11.8px 17.8px,#dc6163 17.8px 23.8px,#d75a6b 23.8px 29.8px,#d35472 29.8px 35.8px,#cf4f77 35.8px 41.8px,#cc4c7c 41.8px 47.7px,#ca4980 47.7px 53.7px,#c74683 53.7px 59.7px,#c44486 59.7px 65.7px,#c1418a 65.7px 71.7px,#be408c 71.7px 77.7px,#bc3e8e 77.7px 83.6px,#ba3d90 83.6px 89.6px,#b83b92 89.6px 95.6px,#b63b94 95.6px 101.6px,#b43996 101.6px 107.6px,#b33897 107.6px 113.5px,#b13799 113.5px 119.5px,#af369a 119.5px 125.5px,#ae359b 125.5px 131.5px,#ad349d 131.5px 137.5px,#aa339f 137.5px 143.5px,#a932a0 143.5px 149.4px,#a831a1 149.4px 155.4px,#a730a2 155.4px 161.4px,#a52fa3 161.4px 167.4px,#a42fa4 167.4px 173.4px,#a32ea5 173.4px 179.4px,#a22da6 179.4px 185.3px,#a22ea6 185.3px 191.3px,#a12da7 191.3px 197.3px,#a02ca8 197.3px 203.3px,#9f2ba9 203.3px 215.3px,#9e2aa9 215.3px 221.2px,#9d2aaa 221.2px 227.2px,#9c29ab 227.2px 233.2px,#9b28ac 233.2px 251.1px,#9a28ad 251.1px 257.1px,#9927ae 257.1px 269.1px,#9826ae 269.1px 275.1px,#9725af 275.1px 287.0px,#9625b0 287.0px 299.0px,#9524b1 299.0px 311.0px,#9322b2 311.0px 328.9px,#9222b3 328.9px 340.9px,#9121b3 340.9px 358.8px,#9020b4 358.8px 376.8px,#8d1fb5 376.8px 400.7px,#8c1eb5 400.7px 424.6px,#8a1db6 424.6px 448.6px,#891db7 448.6px 478.5px,#871cb8 478.5px 514.4px,#841bb8 514.4px 556.3px,#821bb9 556.3px 598.1px,#7e19b9 598.1px 652.0px,#7b17b9 652.0px 717.8px,#7616b9 717.8px 729.7px)"></div>
<div style="position:absolute;left:151.50px;top:562px;width:729.75px;height:13px;background:linear-gradient(90deg,#e5ff44 0.0px 5.9px,#e7854c 5.9px 11.8px,#e26d59 11.8px 17.8px,#dd6262 17.8px 23.8px,#d85b6a 23.8px 29.8px,#d45571 29.8px 35.8px,#d05076 35.8px 41.8px,#cd4d7b 41.8px 47.7px,#cb4a7f 47.7px 53.7px,#c74683 53.7px 59.7px,#c54585 59.7px 65.7px,#c24289 65.7px 71.7px,#c0418b 71.7px 77.7px,#bd3f8d 77.7px 83.6px,#bb3e8f 83.6px 89.6px,#b93c91 89.6px 95.6px,#b73a94 95.6px 101.6px,#b53a95 101.6px 107.6px,#b43996 107.6px 113.5px,#b23798 113.5px 119.5px,#b13799 119.5px 125.5px,#ae359b 125.5px 131.5px,#ad349c 131.5px 137.5px,#ac339e 137.5px 143.5px,#aa339f 143.5px 149.4px,#a932a0 149.4px 155.4px,#a831a1 155.4px 161.4px,#a730a2 161.4px 167.4px,#a52fa3 167.4px 173.4px,#a42fa4 173.4px 179.4px,#a32ea5 179.4px 185.3px,#a22da6 185.3px 191.3px,#a22ea6 191.3px 197.3px,#a12da7 197.3px 203.3px,#a02ca8 203.3px 209.3px,#9f2ba9 209.3px 221.2px,#9e2aa9 221.2px 227.2px,#9d2aaa 227.2px 233.2px,#9c29ab 233.2px 239.2px,#9b28ac 239.2px 257.1px,#9a28ad 257.1px 269.1px,#9927ae 269.1px 275.1px,#9826ae 275.1px 287.0px,#9725af 287.0px 299.0px,#9625b0 299.0px 311.0px,#9524b1 311.0px 322.9px,#9322b2 322.9px 340.9px,#9222b3 340.9px 352.8px,#9121b3 352.8px 370.8px,#9020b4 370.8px 394.7px,#8d1fb5 394.7px 412.7px,#8c1eb5 412.7px 436.6px,#8a1db6 436.6px 466.5px,#891db7 466.5px 496.4px,#871cb8 496.4px 532.3px,#841bb8 532.3px 574.2px,#821bb9 574.2px 622.1px,#7e19b9 622.1px 675.9px,#7b17b9 675.9px 729.7px)"></div>
<div style="position:absolute;left:151.50px;top:575px;width:729.75px;height:14px;background:linear-gradient(90deg,#e5ff44 0.0px 5.9px,#e8874c 5.9px 11.8px,#e26f58 11.8px 17.8px,#dd6360 17.8px 23.8px,#d85b69 23.8px 29.8px,#d5566f 29.8px 35.8px,#d15175 35.8px 41.8px,#ce4e7a 41.8px 47.7px,#cb4b7d 47.7px 53.7px,#c84782 53.7px 59.7px,#c64684 59.7px 65.7px,#c34387 65.7px 71.7px,#c1428a 71.7px 77.7px,#be408c 77.7px 83.6px,#bc3e8e 83.6px 89.6px,#ba3d90 89.6px 95.6px,#b83b92 95.6px 101.6px,#b73b94 101.6px 107.6px,#b43996 107.6px 113.5px,#b33897 113.5px 119.5px,#b23898 119.5px 125.5px,#af369a 125.5px 131.5px,#ae359b 131.5px 137.5px,#ad349c 137.5px 143.5px,#ac339e 143.5px 149.4px,#aa339f 149.4px 155.4px,#a932a0 155.4px 161.4px,#a831a1 161.4px 167.4px,#a730a2 167.4px 173.4px,#a52fa3 173.4px 179.4px,#a42fa4 179.4px 185.3px,#a32ea5 185.3px 191.3px,#a22da6 191.3px 197.3px,#a22ea6 197.3px 203.3px,#a12da7 203.3px 209.3px,#a02ca8 209.3px 215.3px,#9f2ba9 215.3px 227.2px,#9e2aa9 227.2px 233.2px,#9d2aaa 233.2px 239.2px,#9c29ab 239.2px 251.1px,#9b28ac 251.1px 269.1px,#9a28ad 269.1px 275.1px,#9927ae 275.1px 287.0px,#9826ae 287.0px 299.0px,#9725af 299.0px 311.0px,#9625b0 311.0px 322.9px,#9524b1 322.9px 334.9px,#9322b2 334.9px 352.8px,#9222b3 352.8px 370.8px,#9121b3 370.8px 388.7px,#9020b4 388.7px 406.7px,#8d1fb5 406.7px 430.6px,#8c1eb5 430.6px 454.6px,#8a1db6 454.6px 484.5px,#891db7 484.5px 514.4px,#871cb8 514.4px 550.3px,#841bb8 550.3px 592.1px,#821bb9 592.1px 646.0px,#7e19b9 646.0px 705.8px,#7b17b9 705.8px 729.7px)"></div>
<div style="position:absolute;left:151.50px;top:589px;width:729.75px;height:13px;background:linear-gradient(90deg,#e5ff44 0.0px 5.9px,#e8884b 5.9px 11.8px,#e37057 11.8px 17.8px,#de645f 17.8px 23.8px,#d95c68 23.8px 29.8px,#d5576e 29.8px 35.8px,#d25274 35.8px 41.8px,#cf4f79 41.8px 47.7px,#cb4b7d 47.7px 53.7px,#ca4980 53.7px 59.7px,#c74683 59.7px 65.7px,#c44486 65.7px 71.7px,#c24289 71.7px 77.7px,#bf418b 77.7px 83.6px,#bd3f8d 83.6px 89.6px,#bb3e8f 89.6px 95.6px,#b93c91 95.6px 101.6px,#b83b93 101.6px 107.6px,#b53a95 107.6px 113.5px,#b43996 113.5px 119.5px,#b33897 119.5px 125.5px,#b23898 125.5px 131.5px,#af369a 131.5px 137.5px,#ae359b 137.5px 143.5px,#ad349c 143.5px 149.4px,#ac339e 149.4px 155.4px,#aa339f 155.4px 161.4px,#a932a0 161.4px 167.4px,#a831a1 167.4px 173.4px,#a730a2 173.4px 179.4px,#a52fa3 179.4px 185.3px,#a42fa4 185.3px 191.3px,#a32ea5 191.3px 203.3px,#a22da6 203.3px 209.3px,#a12da7 209.3px 215.3px,#a02ca8 215.3px 221.2px,#9f2ba9 221.2px 239.2px,#9e2aa9 239.2px 245.2px,#9d2aaa 245.2px 251.1px,#9c29ab 251.1px 257.1px,#9b28ac 257.1px 275.1px,#9a28ad 275.1px 287.0px,#9927ae 287.0px 299.0px,#9826ae 299.0px 311.0px,#9725af 311.0px 322.9px,#9625b0 322.9px 334.9px,#9524b1 334.9px 346.9px,#9322b2 346.9px 364.8px,#9222b3 364.8px 382.8px,#9121b3 382.8px 400.7px,#9020b4 400.7px 424.6px,#8d1fb5 424.6px 448.6px,#8c1eb5 448.6px 472.5px,#8a1db6 472.5px 502.4px,#891db7 502.4px 532.3px,#871cb8 532.3px 574.2px,#841bb8 574.2px 616.1px,#821bb9 616.1px 669.9px,#7e19b9 669.9px 729.7px)"></div>
<div style="position:absolute;left:151.50px;top:602px;width:729.75px;height:13px;background:linear-gradient(90deg,#e5ff44 0.0px 5.9px,#e88a4a 5.9px 11.8px,#e37157 11.8px 17.8px,#df655e 17.8px 23.8px,#d95d67 23.8px 29.8px,#d6586d 29.8px 35.8px,#d25373 35.8px 41.8px,#cf4f77 41.8px 47.7px,#cd4d7b 47.7px 53.7px,#cb4a7f 53.7px 59.7px,#c84782 59.7px 65.7px,#c54585 65.7px 71.7px,#c34387 71.7px 77.7px,#c1428a 77.7px 83.6px,#be408c 83.6px 89.6px,#bc3e8e 89.6px 95.6px,#bb3e8f 95.6px 101.6px,#b93c91 101.6px 107.6px,#b73a94 107.6px 113.5px,#b53a95 113.5px 119.5px,#b43996 119.5px 125.5px,#b23798 125.5px 131.5px,#b13799 131.5px 137.5px,#af369a 137.5px 143.5px,#ae359b 143.5px 149.4px,#ad349c 149.4px 155.4px,#ac339e 155.4px 161.4px,#aa339f 161.4px 167.4px,#a932a0 167.4px 173.4px,#a831a1 173.4px 179.4px,#a730a2 179.4px 185.3px,#a52fa3 185.3px 191.3px,#a530a3 191.3px 197.3px,#a32ea5 197.3px 209.3px,#a22da6 209.3px 215.3px,#a22ea6 215.3px 221.2px,#a12da7 221.2px 227.2px,#a02ca8 227.2px 233.2px,#9f2ba9 233.2px 245.2px,#9e2aa9 245.2px 251.1px,#9d2aaa 251.1px 263.1px,#9c29ab 263.1px 269.1px,#9b28ac 269.1px 287.0px,#9a28ad 287.0px 299.0px,#9927ae 299.0px 311.0px,#9826ae 311.0px 322.9px,#9725af 322.9px 334.9px,#9625b0 334.9px 346.9px,#9524b1 346.9px 364.8px,#9322b2 364.8px 376.8px,#9222b3 376.8px 394.7px,#9121b3 394.7px 418.7px,#9020b4 418.7px 436.6px,#8d1fb5 436.6px 460.5px,#8c1eb5 460.5px 490.4px,#8a1db6 490.4px 520.4px,#891db7 520.4px 556.3px,#871cb8 556.3px 598.1px,#841bb8 598.1px 640.0px,#821bb9 640.0px 693.9px,#7e19b9 693.9px 729.7px)"></div>
<div style="position:absolute;left:151.50px;top:615px;width:729.75px;height:13px;background:linear-gradient(90deg,#e5ff44 0.0px 5.9px,#e88b4a 5.9px 11.8px,#e37356 11.8px 17.8px,#df665d 17.8px 23.8px,#db5f65 23.8px 29.8px,#d7596c 29.8px 35.8px,#d35472 35.8px 41.8px,#d05076 41.8px 47.7px,#ce4e7a 47.7px 53.7px,#cb4b7d 53.7px 59.7px,#c94881 59.7px 65.7px,#c64584 65.7px 71.7px,#c44486 71.7px 77.7px,#c24289 77.7px 83.6px,#c0418b 83.6px 89.6px,#bd3f8d 89.6px 95.6px,#bc3f8e 95.6px 101.6px,#ba3d90 101.6px 107.6px,#b83b92 107.6px 113.5px,#b73b94 113.5px 119.5px,#b53a95 119.5px 125.5px,#b43996 125.5px 131.5px,#b23798 131.5px 137.5px,#b13799 137.5px 143.5px,#af369a 143.5px 149.4px,#ae359b 149.4px 155.4px,#ad349c 155.4px 161.4px,#ac339e 161.4px 167.4px,#aa339f 167.4px 173.4px,#a932a0 173.4px 179.4px,#a831a1 179.4px 185.3px,#a730a2 185.3px 191.3px,#a52fa3 191.3px 197.3px,#a530a3 197.3px 203.3px,#a42fa4 203.3px 209.3px,#a32ea5 209.3px 215.3px,#a22da6 215.3px 221.2px,#a22ea6 221.2px 227.2px,#a12da7 227.2px 233.2px,#a02ca8 233.2px 239.2px,#9f2ba9 239.2px 257.1px,#9e2aa9 257.1px 263.1px,#9d2aaa 263.1px 269.1px,#9c29ab 269.1px 281.1px,#9b28ac 281.1px 299.0px,#9a28ad 299.0px 311.0px,#9927ae 311.0px 322.9px,#9826ae 322.9px 334.9px,#9725af 334.9px 346.9px,#9625b0 346.9px 364.8px,#9524b1 364.8px 376.8px,#9322b2 376.8px 394.7px,#9222b3 394.7px 412.7px,#9121b3 412.7px 436.6px,#9020b4 436.6px 454.6px,#8d1fb5 454.6px 484.5px,#8c1eb5 484.5px 508.4px,#8a1db6 508.4px 544.3px,#891db7 544.3px 580.2px,#871cb8 580.2px 622.1px,#841bb8 622.1px 669.9px,#821bb9 669.9px 723.8px,#7e19b9 723.8px 729.7px)"></div>
<div style="position:absolute;left:151.50px;top:628px;width:729.75px;height:13px;background:linear-gradient(90deg,#e5ff44 0.0px 5.9px,#e88c49 5.9px 11.8px,#e47554 11.8px 17.8px,#e0675c 17.8px 23.8px,#dc6064 23.8px 29.8px,#d75a6b 29.8px 35.8px,#d45570 35.8px 41.8px,#d15175 41.8px 47.7px,#cf4f79 47.7px 53.7px,#cc4c7c 53.7px 59.7px,#ca4980 59.7px 65.7px,#c74683 65.7px 71.7px,#c54585 71.7px 77.7px,#c34387 77.7px 83.6px,#c1428a 83.6px 89.6px,#be408c 89.6px 95.6px,#bd3f8d 95.6px 101.6px,#bb3e8f 101.6px 107.6px,#ba3d90 107.6px 113.5px,#b83b92 113.5px 119.5px,#b63b94 119.5px 125.5px,#b53a95 125.5px 131.5px,#b43996 131.5px 137.5px,#b23798 137.5px 143.5px,#b13799 143.5px 149.4px,#af369a 149.4px 155.4px,#ae359b 155.4px 161.4px,#ad349c 161.4px 167.4px,#ac339e 167.4px 173.4px,#aa339f 173.4px 179.4px,#a932a0 179.4px 191.3px,#a730a2 191.3px 203.3px,#a52fa3 203.3px 209.3px,#a42fa4 209.3px 215.3px,#a32ea5 215.3px 227.2px,#a22da6 227.2px 233.2px,#a22ea6 233.2px 239.2px,#a12da7 239.2px 245.2px,#a02ca8 245.2px 251.1px,#9f2ba9 251.1px 269.1px,#9e2aa9 269.1px 275.1px,#9d2aaa 275.1px 281.1px,#9c29ab 281.1px 293.0px,#9b28ac 293.0px 311.0px,#9a28ad 311.0px 322.9px,#9927ae 322.9px 334.9px,#9826ae 334.9px 346.9px,#9725af 346.9px 364.8px,#9625b0 364.8px 376.8px,#9524b1 376.8px 394.7px,#9322b2 394.7px 412.7px,#9222b3 412.7px 430.6px,#9121b3 430.6px 454.6px,#9020b4 454.6px 478.5px,#8d1fb5 478.5px 502.4px,#8c1eb5 502.4px 532.3px,#8a1db6 532.3px 568.2px,#891db7 568.2px 604.1px,#871cb8 604.1px 646.0px,#841bb8 646.0px 699.8px,#821bb9 699.8px 729.7px)"></div>
<div style="position:absolute;left:151.50px;top:641px;width:729.75px;height:13px;background:linear-gradient(90deg,#e5ff44 0.0px 5.9px,#e98f47 5.9px 11.8px,#e47654 11.8px 17.8px,#e0685b 17.8px 23.8px,#dc6163 23.8px 29.8px,#d85b6a 29.8px 35.8px,#d5566f 35.8px 41.8px,#d25274 41.8px 47.7px,#cf5077 47.7px 53.7px,#cd4d7b 53.7px 59.7px,#cb4a7e 59.7px 65.7px,#c94881 65.7px 71.7px,#c64584 71.7px 77.7px,#c44486 77.7px 83.6px,#c24289 83.6px 89.6px,#c1428a 89.6px 95.6px,#be408c 95.6px 101.6px,#bc3e8e 101.6px 107.6px,#bb3e8f 107.6px 113.5px,#b93c91 113.5px 119.5px,#b83b92 119.5px 125.5px,#b63b94 125.5px 131.5px,#b53a95 131.5px 137.5px,#b43996 137.5px 143.5px,#b23798 143.5px 149.4px,#b13799 149.4px 155.4px,#af369a 155.4px 161.4px,#ae359b 161.4px 167.4px,#ad349c 167.4px 173.4px,#ad349d 173.4px 179.4px,#ac349e 179.4px 185.3px,#aa339f 185.3px 191.3px,#a932a0 191.3px 197.3px,#a831a1 197.3px 203.3px,#a730a2 203.3px 209.3px,#a52fa3 209.3px 215.3px,#a530a3 215.3px 221.2px,#a42fa4 221.2px 227.2px,#a32ea5 227.2px 239.2px,#a22da6 239.2px 245.2px,#a22ea6 245.2px 251.1px,#a12da7 251.1px 257.1px,#a02ca8 257.1px 263.1px,#9f2ba9 263.1px 281.1px,#9e2aa9 281.1px 287.0px,#9d2aaa 287.0px 299.0px,#9c29ab 299.0px 305.0px,#9b28ac 305.0px 328.9px,#9a28ad 328.9px 340.9px,#9927ae 340.9px 352.8px,#9826ae 352.8px 364.8px,#9725af 364.8px 376.8px,#9625b0 376.8px 394.7px,#9524b1 394.7px 412.7px,#9322b2 412.7px 430.6px,#9222b3 430.6px 448.6px,#9121b3 448.6px 472.5px,#9020b4 472.5px 496.4px,#8d1fb5 496.4px 526.3px,#8c1eb5 526.3px 556.3px,#8a1db6 556.3px 592.1px,#891db7 592.1px 634.0px,#871cb8 634.0px 675.9px,#841bb8 675.9px 729.7px)"></div>
<div style="position:absolute;left:151.50px;top:654px;width:729.75px;height:14px;background:linear-gradient(90deg,#e5ff44 0.0px 5.9px,#e99147 5.9px 11.8px,#e57853 11.8px 17.8px,#e16a5b 17.8px 23.8px,#dd6262 23.8px 29.8px,#d95c68 29.8px 35.8px,#d6586d 35.8px 41.8px,#d35472 41.8px 47.7px,#d05076 47.7px 53.7px,#ce4e7a 53.7px 59.7px,#cb4b7d 59.7px 65.7px,#ca4980 65.7px 71.7px,#c74683 71.7px 77.7px,#c64684 77.7px 83.6px,#c44486 83.6px 89.6px,#c24289 89.6px 95.6px,#c0418b 95.6px 101.6px,#bd3f8d 101.6px 107.6px,#bc3e8e 107.6px 113.5px,#bb3e8f 113.5px 119.5px,#b93c91 119.5px 125.5px,#b83b92 125.5px 131.5px,#b63b94 131.5px 137.5px,#b53a95 137.5px 143.5px,#b43996 143.5px 149.4px,#b23798 149.4px 155.4px,#b23898 155.4px 161.4px,#af369a 161.4px 167.4px,#ae359b 167.4px 179.4px,#ad349d 179.4px 185.3px,#ac349e 185.3px 191.3px,#aa339f 191.3px 197.3px,#a932a0 197.3px 209.3px,#a730a2 209.3px 221.2px,#a52fa3 221.2px 227.2px,#a530a3 227.2px 233.2px,#a42fa4 233.2px 239.2px,#a32ea5 239.2px 251.1px,#a22da6 251.1px 257.1px,#a22ea6 257.1px 263.1px,#a12da7 263.1px 269.1px,#a02ca8 269.1px 275.1px,#9f2ba9 275.1px 293.0px,#9e2aa9 293.0px 299.0px,#9d2aaa 299.0px 311.0px,#9c29ab 311.0px 322.9px,#9b28ac 322.9px 340.9px,#9a28ad 340.9px 352.8px,#9927ae 352.8px 364.8px,#9826ae 364.8px 382.8px,#9725af 382.8px 394.7px,#9625b0 394.7px 412.7px,#9524b1 412.7px 430.6px,#9322b2 430.6px 448.6px,#9222b3 448.6px 472.5px,#9121b3 472.5px 496.4px,#9020b4 496.4px 520.4px,#8d1fb5 520.4px 550.3px,#8c1eb5 550.3px 586.2px,#8a1db6 586.2px 622.1px,#891db7 622.1px 663.9px,#871cb8 663.9px 711.8px,#841bb8 711.8px 729.7px)"></div>
<div style="position:absolute;left:151.50px;top:668px;width:729.75px;height:13px;background:linear-gradient(90deg,#e5ff44 0.0px 5.9px,#e99246 5.9px 11.8px,#e57953 11.8px 17.8px,#e26c59 17.8px 23.8px,#dd6360 23.8px 29.8px,#d95d67 29.8px 35.8px,#d7596c 35.8px 41.8px,#d45571 41.8px 47.7px,#d15175 47.7px 53.7px,#cf4e79 53.7px 59.7px,#cd4d7b 59.7px 65.7px,#cb4a7e 65.7px 71.7px,#c94881 71.7px 77.7px,#c74683 77.7px 83.6px,#c54585 83.6px 89.6px,#c34387 89.6px 95.6px,#c1418a 95.6px 101.6px,#bf418b 101.6px 107.6px,#bd3f8d 107.6px 113.5px,#bc3f8e 113.5px 119.5px,#bb3e8f 119.5px 125.5px,#b93c91 125.5px 131.5px,#b83b92 131.5px 137.5px,#b63b94 137.5px 143.5px,#b53a95 143.5px 149.4px,#b43996 149.4px 155.4px,#b33897 155.4px 161.4px,#b23898 161.4px 167.4px,#b13799 167.4px 173.4px,#af369a 173.4px 179.4px,#ae359b 179.4px 185.3px,#ad349c 185.3px 191.3px,#ac339e 191.3px 197.3px,#ac349e 197.3px 203.3px,#aa339f 203.3px 209.3px,#a932a0 209.3px 215.3px,#a831a1 215.3px 221.2px,#a730a2 221.2px 233.2px,#a52fa3 233.2px 239.2px,#a530a3 239.2px 245.2px,#a42fa4 245.2px 251.1px,#a32ea5 251.1px 263.1px,#a22da6 263.1px 269.1px,#a22ea6 269.1px 275.1px,#a12da7 275.1px 281.1px,#a02ca8 281.1px 287.0px,#9f2ba9 287.0px 305.0px,#9e2aa9 305.0px 317.0px,#9d2aaa 317.0px 322.9px,#9c29ab 322.9px 334.9px,#9b28ac 334.9px 358.8px,#9a28ad 358.8px 370.8px,#9927ae 370.8px 388.7px,#9826ae 388.7px 400.7px,#9725af 400.7px 418.7px,#9625b0 418.7px 436.6px,#9524b1 436.6px 454.6px,#9322b2 454.6px 472.5px,#9222b3 472.5px 496.4px,#9121b3 496.4px 520.4px,#9020b4 520.4px 550.3px,#8d1fb5 550.3px 580.2px,#8c1eb5 580.2px 610.1px,#8a1db6 610.1px 652.0px,#891db7 652.0px 693.9px,#871cb8 693.9px 729.7px)"></div>
<div style="position:absolute;left:151.50px;top:681px;width:729.75px;height:13px;background:linear-gradient(90deg,#e5ff44 0.0px 5.9px,#e99446 5.9px 11.8px,#e57b52 11.8px 17.8px,#e26d59 17.8px 23.8px,#df655e 23.8px 29.8px,#db5f65 29.8px 35.8px,#d75a6b 35.8px 41.8px,#d5566f 41.8px 47.7px,#d25373 47.7px 53.7px,#d05176 53.7px 59.7px,#ce4e7a 59.7px 65.7px,#cb4b7d 65.7px 71.7px,#ca4980 71.7px 77.7px,#c84782 77.7px 83.6px,#c64584 83.6px 89.6px,#c44486 89.6px 95.6px,#c34387 95.6px 101.6px,#c1428a 101.6px 107.6px,#bf418b 107.6px 113.5px,#bd3f8d 113.5px 119.5px,#bc3f8e 119.5px 125.5px,#bb3e8f 125.5px 131.5px,#b93c91 131.5px 137.5px,#b83b92 137.5px 143.5px,#b73b94 143.5px 149.4px,#b53a95 149.4px 155.4px,#b43996 155.4px 161.4px,#b33897 161.4px 167.4px,#b23798 167.4px 173.4px,#b13799 173.4px 179.4px,#af369a 179.4px 185.3px,#ae359b 185.3px 197.3px,#ad349d 197.3px 203.3px,#ac339e 203.3px 209.3px,#aa339f 209.3px 221.2px,#a932a0 221.2px 227.2px,#a831a1 227.2px 233.2px,#a730a2 233.2px 245.2px,#a52fa3 245.2px 251.1px,#a530a3 251.1px 257.1px,#a42fa4 257.1px 263.1px,#a32ea5 263.1px 275.1px,#a22da6 275.1px 281.1px,#a22ea6 281.1px 287.0px,#a12da7 287.0px 299.0px,#a02ca8 299.0px 305.0px,#9f2ba9 305.0px 322.9px,#9e2aa9 322.9px 334.9px,#9d2aaa 334.9px 340.9px,#9c29ab 340.9px 352.8px,#9b28ac 352.8px 376.8px,#9a28ad 376.8px 388.7px,#9927ae 388.7px 406.7px,#9826ae 406.7px 418.7px,#9725af 418.7px 436.6px,#9625b0 436.6px 454.6px,#9524b1 454.6px 478.5px,#9322b2 478.5px 496.4px,#9222b3 496.4px 520.4px,#9121b3 520.4px 550.3px,#9020b4 550.3px 574.2px,#8d1fb5 574.2px 610.1px,#8c1eb5 610.1px 646.0px,#8a1db6 646.0px 687.9px,#891db7 687.9px 729.7px)"></div>
<div style="position:absolute;left:151.50px;top:694px;width:729.75px;height:13px;background:linear-gradient(90deg,#e5ff44 0.0px 5.9px,#e99745 5.9px 11.8px,#e67d50 11.8px 17.8px,#e26f58 17.8px 23.8px,#df665d 23.8px 29.8px,#db6064 29.8px 35.8px,#d85b69 35.8px 41.8px,#d6586d 41.8px 47.7px,#d35472 47.7px 53.7px,#d15175 53.7px 59.7px,#cf4e79 59.7px 65.7px,#cd4d7b 65.7px 71.7px,#cb4b7d 71.7px 77.7px,#ca4980 77.7px 83.6px,#c74683 83.6px 89.6px,#c64684 89.6px 95.6px,#c44486 95.6px 101.6px,#c24288 101.6px 107.6px,#c1428a 107.6px 113.5px,#bf418b 113.5px 119.5px,#bd3f8d 119.5px 125.5px,#bc3e8e 125.5px 131.5px,#bb3e8f 131.5px 137.5px,#ba3d90 137.5px 143.5px,#b83b92 143.5px 149.4px,#b73a94 149.4px 155.4px,#b53a95 155.4px 161.4px,#b43996 161.4px 173.4px,#b33897 173.4px 179.4px,#b23898 179.4px 185.3px,#b13799 185.3px 191.3px,#af369a 191.3px 197.3px,#ae359b 197.3px 209.3px,#ad349d 209.3px 215.3px,#ac339e 215.3px 221.2px,#aa339f 221.2px 233.2px,#a932a0 233.2px 239.2px,#a831a1 239.2px 245.2px,#a730a2 245.2px 257.1px,#a52fa3 257.1px 263.1px,#a530a3 263.1px 269.1px,#a42fa4 269.1px 275.1px,#a32ea5 275.1px 287.0px,#a22da6 287.0px 299.0px,#a22ea6 299.0px 305.0px,#a12da7 305.0px 311.0px,#a02ca8 311.0px 322.9px,#9f2ba9 322.9px 340.9px,#9e2aa9 340.9px 352.8px,#9d2aaa 352.8px 358.8px,#9c29ab 358.8px 370.8px,#9b28ac 370.8px 400.7px,#9a28ad 400.7px 412.7px,#9927ae 412.7px 430.6px,#9826ae 430.6px 442.6px,#9725af 442.6px 460.5px,#9625b0 460.5px 484.5px,#9524b1 484.5px 502.4px,#9322b2 502.4px 526.3px,#9222b3 526.3px 550.3px,#9121b3 550.3px 580.2px,#9020b4 580.2px 610.1px,#8d1fb5 610.1px 640.0px,#8c1eb5 640.0px 681.9px,#8a1db6 681.9px 723.8px,#891db7 723.8px 729.7px)"></div>
<div style="position:absolute;left:151.50px;top:707px;width:729.75px;height:13px;background:linear-gradient(90deg,#e5ff44 0.0px 5.9px,#e99945 5.9px 11.8px,#e67f50 11.8px 17.8px,#e37157 17.8px 23.8px,#e0675c 23.8px 29.8px,#dd6262 29.8px 35.8px,#d95d67 35.8px 41.8px,#d7596c 41.8px 47.7px,#d5566f 47.7px 53.7px,#d25274 53.7px 59.7px,#d05076 59.7px 65.7px,#ce4e7a 65.7px 71.7px,#cc4c7c 71.7px 77.7px,#cb4a7f 77.7px 83.6px,#c94881 83.6px 89.6px,#c74683 89.6px 95.6px,#c64684 95.6px 101.6px,#c44486 101.6px 107.6px,#c24288 107.6px 113.5px,#c1428a 113.5px 119.5px,#bf418b 119.5px 125.5px,#bd3f8d 125.5px 131.5px,#bc3e8e 131.5px 137.5px,#bb3e8f 137.5px 143.5px,#ba3d90 143.5px 149.4px,#b93c91 149.4px 155.4px,#b83b93 155.4px 161.4px,#b73b94 161.4px 167.4px,#b53a95 167.4px 173.4px,#b43996 173.4px 179.4px,#b33897 179.4px 185.3px,#b23798 185.3px 191.3px,#b23898 191.3px 197.3px,#b13799 197.3px 203.3px,#af369a 203.3px 209.3px,#ae359b 209.3px 221.2px,#ad349d 221.2px 227.2px,#ac339e 227.2px 233.2px,#ac349e 233.2px 239.2px,#aa339f 239.2px 245.2px,#a932a0 245.2px 257.1px,#a831a1 257.1px 263.1px,#a730a2 263.1px 275.1px,#a52fa3 275.1px 281.1px,#a530a3 281.1px 287.0px,#a42fa4 287.0px 293.0px,#a32ea5 293.0px 305.0px,#a22da6 305.0px 317.0px,#a22ea6 317.0px 322.9px,#a12da7 322.9px 328.9px,#a02ca8 328.9px 340.9px,#9f2ba9 340.9px 358.8px,#9e2aa9 358.8px 370.8px,#9d2aaa 370.8px 382.8px,#9c29ab 382.8px 394.7px,#9b28ac 394.7px 424.6px,#9a28ad 424.6px 436.6px,#9927ae 436.6px 454.6px,#9826ae 454.6px 472.5px,#9725af 472.5px 490.4px,#9625b0 490.4px 508.4px,#9524b1 508.4px 532.3px,#9322b2 532.3px 556.3px,#9222b3 556.3px 580.2px,#9121b3 580.2px 610.1px,#9020b4 610.1px 646.0px,#8d1fb5 646.0px 681.9px,#8c1eb5 681.9px 717.8px,#8a1db6 717.8px 729.7px)"></div>
<div style="position:absolute;left:151.50px;top:720px;width:729.75px;height:13px;background:linear-gradient(90deg,#e5ff44 0.0px 5.9px,#ea9c45 5.9px 11.8px,#e7814e 11.8px 17.8px,#e37356 17.8px 23.8px,#e16a5b 23.8px 29.8px,#dd6360 29.8px 35.8px,#db5f65 35.8px 41.8px,#d85b6a 41.8px 47.7px,#d5576e 47.7px 53.7px,#d35472 53.7px 59.7px,#d15175 59.7px 65.7px,#cf5077 65.7px 71.7px,#ce4e7a 71.7px 77.7px,#cb4b7d 77.7px 83.6px,#cb4a7f 83.6px 89.6px,#c94881 89.6px 95.6px,#c74683 95.6px 101.6px,#c64684 101.6px 107.6px,#c44486 107.6px 113.5px,#c34387 113.5px 119.5px,#c1418a 119.5px 125.5px,#c0418b 125.5px 131.5px,#be408c 131.5px 137.5px,#bd3f8d 137.5px 143.5px,#bc3f8e 143.5px 149.4px,#bb3e8f 149.4px 155.4px,#b93c91 155.4px 161.4px,#b83b92 161.4px 167.4px,#b73a94 167.4px 173.4px,#b63b94 173.4px 179.4px,#b53a95 179.4px 185.3px,#b43996 185.3px 191.3px,#b33897 191.3px 197.3px,#b23798 197.3px 203.3px,#b23898 203.3px 209.3px,#b13799 209.3px 215.3px,#af369a 215.3px 221.2px,#ae359b 221.2px 233.2px,#ad349c 233.2px 239.2px,#ac339e 239.2px 245.2px,#ac349e 245.2px 251.1px,#aa339f 251.1px 263.1px,#a932a0 263.1px 269.1px,#a831a1 269.1px 275.1px,#a730a2 275.1px 287.0px,#a52fa3 287.0px 299.0px,#a530a3 299.0px 305.0px,#a42fa4 305.0px 311.0px,#a32ea5 311.0px 322.9px,#a22da6 322.9px 334.9px,#a22ea6 334.9px 340.9px,#a12da7 340.9px 352.8px,#a02ca8 352.8px 358.8px,#9f2ba9 358.8px 382.8px,#9e2aa9 382.8px 394.7px,#9d2aaa 394.7px 406.7px,#9c29ab 406.7px 418.7px,#9b28ac 418.7px 448.6px,#9a28ad 448.6px 466.5px,#9927ae 466.5px 484.5px,#9826ae 484.5px 502.4px,#9725af 502.4px 520.4px,#9625b0 520.4px 544.3px,#9524b1 544.3px 568.2px,#9322b2 568.2px 592.1px,#9222b3 592.1px 622.1px,#9121b3 622.1px 652.0px,#9020b4 652.0px 681.9px,#8d1fb5 681.9px 723.8px,#8c1eb5 723.8px 729.7px)"></div>
<div style="position:absolute;left:151.50px;top:733px;width:729.75px;height:14px;background:linear-gradient(90deg,#e5ff44 0.0px 5.9px,#ea9f44 5.9px 11.8px,#e7844d 11.8px 17.8px,#e47555 17.8px 23.8px,#e26c59 23.8px 29.8px,#df655e 29.8px 35.8px,#db6064 35.8px 41.8px,#d95c68 41.8px 47.7px,#d7596c 47.7px 53.7px,#d5566f 53.7px 59.7px,#d25373 59.7px 65.7px,#d05076 65.7px 71.7px,#cf4e79 71.7px 77.7px,#cd4d7b 77.7px 83.6px,#cb4b7d 83.6px 89.6px,#cb4a7f 89.6px 95.6px,#c94881 95.6px 101.6px,#c74683 101.6px 107.6px,#c64684 107.6px 113.5px,#c44486 113.5px 119.5px,#c34387 119.5px 125.5px,#c24289 125.5px 131.5px,#c1428a 131.5px 137.5px,#be408c 137.5px 143.5px,#bd3f8d 143.5px 149.4px,#bc3e8e 149.4px 155.4px,#bb3e8f 155.4px 161.4px,#ba3d90 161.4px 167.4px,#b93c91 167.4px 173.4px,#b83b92 173.4px 179.4px,#b73a94 179.4px 185.3px,#b63b94 185.3px 191.3px,#b53a95 191.3px 197.3px,#b43996 197.3px 203.3px,#b33897 203.3px 209.3px,#b23798 209.3px 215.3px,#b23898 215.3px 221.2px,#b13799 221.2px 227.2px,#af369a 227.2px 233.2px,#ae359b 233.2px 251.1px,#ad349d 251.1px 257.1px,#ac339e 257.1px 263.1px,#ac349e 263.1px 269.1px,#aa339f 269.1px 275.1px,#a932a0 275.1px 287.0px,#a831a1 287.0px 293.0px,#a730a2 293.0px 311.0px,#a52fa3 311.0px 317.0px,#a530a3 317.0px 322.9px,#a42fa4 322.9px 328.9px,#a32ea5 328.9px 346.9px,#a22da6 346.9px 358.8px,#a22ea6 358.8px 364.8px,#a12da7 364.8px 376.8px,#a02ca8 376.8px 382.8px,#9f2ba9 382.8px 406.7px,#9e2aa9 406.7px 418.7px,#9d2aaa 418.7px 430.6px,#9c29ab 430.6px 448.6px,#9b28ac 448.6px 478.5px,#9a28ad 478.5px 496.4px,#9927ae 496.4px 514.4px,#9826ae 514.4px 532.3px,#9725af 532.3px 556.3px,#9625b0 556.3px 580.2px,#9524b1 580.2px 604.1px,#9322b2 604.1px 628.0px,#9222b3 628.0px 658.0px,#9121b3 658.0px 693.9px,#9020b4 693.9px 729.7px)"></div>
<div style="position:absolute;left:151.50px;top:747px;width:729.75px;height:13px;background:linear-gradient(90deg,#e5ff44 0.0px 5.9px,#eaa144 5.9px 11.8px,#e7854c 11.8px 17.8px,#e57853 17.8px 23.8px,#e26d59 23.8px 29.8px,#e0675c 29.8px 35.8px,#dd6262 35.8px 41.8px,#da5e66 41.8px 47.7px,#d85b6a 47.7px 53.7px,#d6586d 53.7px 59.7px,#d45571 59.7px 65.7px,#d25274 65.7px 71.7px,#d05076 71.7px 77.7px,#cf4f79 77.7px 83.6px,#cd4d7b 83.6px 89.6px,#cb4b7d 89.6px 95.6px,#cb4a7f 95.6px 101.6px,#c94881 101.6px 107.6px,#c74683 107.6px 113.5px,#c64584 113.5px 119.5px,#c54585 119.5px 125.5px,#c44486 125.5px 131.5px,#c24289 131.5px 137.5px,#c1428a 137.5px 143.5px,#c0418b 143.5px 149.4px,#be408c 149.4px 155.4px,#bd3f8d 155.4px 161.4px,#bc3e8e 161.4px 167.4px,#bb3e8f 167.4px 173.4px,#ba3d90 173.4px 179.4px,#b93c91 179.4px 185.3px,#b83b92 185.3px 191.3px,#b73a94 191.3px 197.3px,#b63b94 197.3px 203.3px,#b53a95 203.3px 209.3px,#b43996 209.3px 221.2px,#b33897 221.2px 227.2px,#b23798 227.2px 233.2px,#b23898 233.2px 239.2px,#b13799 239.2px 245.2px,#af369a 245.2px 251.1px,#ae359b 251.1px 263.1px,#ad349c 263.1px 269.1px,#ad349d 269.1px 275.1px,#ac339e 275.1px 281.1px,#ac349e 281.1px 287.0px,#aa339f 287.0px 299.0px,#a932a0 299.0px 311.0px,#a831a1 311.0px 317.0px,#a730a2 317.0px 328.9px,#a52fa3 328.9px 340.9px,#a530a3 340.9px 346.9px,#a42fa4 346.9px 352.8px,#a32ea5 352.8px 370.8px,#a22da6 370.8px 382.8px,#a22ea6 382.8px 388.7px,#a12da7 388.7px 400.7px,#a02ca8 400.7px 412.7px,#9f2ba9 412.7px 436.6px,#9e2aa9 436.6px 448.6px,#9d2aaa 448.6px 466.5px,#9c29ab 466.5px 478.5px,#9b28ac 478.5px 514.4px,#9a28ad 514.4px 532.3px,#9927ae 532.3px 550.3px,#9826ae 550.3px 568.2px,#9725af 568.2px 592.1px,#9625b0 592.1px 616.1px,#9524b1 616.1px 646.0px,#9322b2 646.0px 675.9px,#9222b3 675.9px 705.8px,#9121b3 705.8px 729.7px)"></div>
<div style="position:absolute;left:151.50px;top:760px;width:729.75px;height:13px;background:linear-gradient(90deg,#e5ff44 0.0px 5.9px,#eaa443 5.9px 11.8px,#e8884b 11.8px 17.8px,#e57a52 17.8px 23.8px,#e37057 23.8px 29.8px,#e16a5b 29.8px 35.8px,#de645f 35.8px 41.8px,#dc6064 41.8px 47.7px,#d95c68 47.7px 53.7px,#d7596c 53.7px 59.7px,#d5576e 59.7px 65.7px,#d35472 65.7px 71.7px,#d25274 71.7px 77.7px,#d05076 77.7px 83.6px,#cf4f79 83.6px 89.6px,#cd4d7b 89.6px 95.6px,#cb4b7d 95.6px 101.6px,#cb4a7f 101.6px 107.6px,#ca4980 107.6px 113.5px,#c84782 113.5px 119.5px,#c74683 119.5px 125.5px,#c64684 125.5px 131.5px,#c44486 131.5px 137.5px,#c34387 137.5px 143.5px,#c24289 143.5px 149.4px,#c1428a 149.4px 155.4px,#bf418b 155.4px 161.4px,#be408c 161.4px 167.4px,#bd3f8d 167.4px 173.4px,#bc3e8e 173.4px 179.4px,#bb3e8f 179.4px 185.3px,#ba3d90 185.3px 191.3px,#b93c91 191.3px 203.3px,#b83b93 203.3px 209.3px,#b73b94 209.3px 215.3px,#b53a95 215.3px 227.2px,#b43996 227.2px 233.2px,#b33897 233.2px 245.2px,#b23798 245.2px 251.1px,#b23898 251.1px 257.1px,#b13799 257.1px 263.1px,#af369a 263.1px 269.1px,#ae359b 269.1px 287.0px,#ad349c 287.0px 293.0px,#ad349d 293.0px 299.0px,#ac339e 299.0px 305.0px,#ac349e 305.0px 311.0px,#aa339f 311.0px 322.9px,#a932a0 322.9px 334.9px,#a831a1 334.9px 340.9px,#a730a2 340.9px 352.8px,#a52fa3 352.8px 364.8px,#a530a3 364.8px 370.8px,#a42fa4 370.8px 382.8px,#a32ea5 382.8px 400.7px,#a22da6 400.7px 412.7px,#a22ea6 412.7px 418.7px,#a12da7 418.7px 430.6px,#a02ca8 430.6px 442.6px,#9f2ba9 442.6px 472.5px,#9e2aa9 472.5px 484.5px,#9d2aaa 484.5px 502.4px,#9c29ab 502.4px 514.4px,#9b28ac 514.4px 550.3px,#9a28ad 550.3px 568.2px,#9927ae 568.2px 592.1px,#9826ae 592.1px 616.1px,#9725af 616.1px 640.0px,#9625b0 640.0px 663.9px,#9524b1 663.9px 693.9px,#9322b2 693.9px 723.8px,#9222b3 723.8px 729.7px)"></div>
<div style="position:absolute;left:151.50px;top:773px;width:729.75px;height:13px;background:linear-gradient(90deg,#e5ff44 0.0px 5.9px,#eaa743 5.9px 11.8px,#e88b4a 11.8px 17.8px,#e67d50 17.8px 23.8px,#e37356 23.8px 29.8px,#e26c59 29.8px 35.8px,#df665d 35.8px 41.8px,#dd6262 41.8px 47.7px,#db5f65 47.7px 53.7px,#d85b69 53.7px 59.7px,#d7596c 59.7px 65.7px,#d5566f 65.7px 71.7px,#d35472 71.7px 77.7px,#d25274 77.7px 83.6px,#d05076 83.6px 89.6px,#cf4e79 89.6px 95.6px,#ce4e7a 95.6px 101.6px,#cc4c7c 101.6px 107.6px,#cb4b7d 107.6px 113.5px,#ca4980 113.5px 119.5px,#c94881 119.5px 125.5px,#c74683 125.5px 131.5px,#c64584 131.5px 137.5px,#c54585 137.5px 143.5px,#c44486 143.5px 149.4px,#c34387 149.4px 155.4px,#c24289 155.4px 161.4px,#c1428a 161.4px 167.4px,#c0418b 167.4px 173.4px,#be408c 173.4px 179.4px,#bd3f8d 179.4px 185.3px,#bc3e8e 185.3px 191.3px,#bc3f8e 191.3px 197.3px,#bb3e8f 197.3px 203.3px,#ba3d90 203.3px 209.3px,#b93c91 209.3px 215.3px,#b83b92 215.3px 221.2px,#b83b93 221.2px 227.2px,#b73b94 227.2px 233.2px,#b53a95 233.2px 245.2px,#b43996 245.2px 257.1px,#b33897 257.1px 263.1px,#b23798 263.1px 269.1px,#b23898 269.1px 275.1px,#b13799 275.1px 287.0px,#af369a 287.0px 293.0px,#ae359b 293.0px 311.0px,#ad349c 311.0px 317.0px,#ad349d 317.0px 322.9px,#ac339e 322.9px 328.9px,#ac349e 328.9px 334.9px,#aa339f 334.9px 346.9px,#a932a0 346.9px 358.8px,#a831a1 358.8px 370.8px,#a730a2 370.8px 382.8px,#a52fa3 382.8px 394.7px,#a530a3 394.7px 400.7px,#a42fa4 400.7px 412.7px,#a32ea5 412.7px 430.6px,#a22da6 430.6px 442.6px,#a22ea6 442.6px 454.6px,#a12da7 454.6px 466.5px,#a02ca8 466.5px 478.5px,#9f2ba9 478.5px 508.4px,#9e2aa9 508.4px 526.3px,#9d2aaa 526.3px 538.3px,#9c29ab 538.3px 556.3px,#9b28ac 556.3px 598.1px,#9a28ad 598.1px 616.1px,#9927ae 616.1px 640.0px,#9826ae 640.0px 663.9px,#9725af 663.9px 693.9px,#9625b0 693.9px 723.8px,#9524b1 723.8px 729.7px)"></div>
<div style="position:absolute;left:151.50px;top:786px;width:729.75px;height:13px;background:linear-gradient(90deg,#e5ff44 0.0px 5.9px,#eaac42 5.9px 11.8px,#e98f47 11.8px 17.8px,#e6804f 17.8px 23.8px,#e47654 23.8px 29.8px,#e26f58 29.8px 35.8px,#e0685b 35.8px 41.8px,#de645f 41.8px 47.7px,#dc6163 47.7px 53.7px,#da5e66 53.7px 59.7px,#d85b6a 59.7px 65.7px,#d7596c 65.7px 71.7px,#d5566f 71.7px 77.7px,#d35472 77.7px 83.6px,#d25274 83.6px 89.6px,#d05076 89.6px 95.6px,#cf5077 95.6px 101.6px,#ce4e7a 101.6px 107.6px,#cd4d7b 107.6px 113.5px,#cb4b7d 113.5px 119.5px,#cb4a7e 119.5px 125.5px,#ca4980 125.5px 131.5px,#c94881 131.5px 137.5px,#c74683 137.5px 143.5px,#c64584 143.5px 149.4px,#c54585 149.4px 155.4px,#c44486 155.4px 161.4px,#c34387 161.4px 167.4px,#c24289 167.4px 173.4px,#c1418a 173.4px 179.4px,#c1428a 179.4px 185.3px,#bf418b 185.3px 191.3px,#be408c 191.3px 197.3px,#bd3f8d 197.3px 203.3px,#bc3e8e 203.3px 209.3px,#bc3f8e 209.3px 215.3px,#bb3e8f 215.3px 221.2px,#ba3d90 221.2px 227.2px,#b93c91 227.2px 239.2px,#b83b92 239.2px 245.2px,#b73a94 245.2px 251.1px,#b63b94 251.1px 257.1px,#b53a95 257.1px 269.1px,#b43996 269.1px 281.1px,#b33897 281.1px 287.0px,#b23798 287.0px 293.0px,#b23898 293.0px 299.0px,#b13799 299.0px 311.0px,#af369a 311.0px 322.9px,#ae359b 322.9px 334.9px,#ad349c 334.9px 340.9px,#ad349d 340.9px 352.8px,#ac339e 352.8px 358.8px,#ac349e 358.8px 364.8px,#aa339f 364.8px 376.8px,#a932a0 376.8px 394.7px,#a831a1 394.7px 400.7px,#a730a2 400.7px 418.7px,#a52fa3 418.7px 430.6px,#a530a3 430.6px 436.6px,#a42fa4 436.6px 448.6px,#a32ea5 448.6px 472.5px,#a22da6 472.5px 484.5px,#a22ea6 484.5px 496.4px,#a12da7 496.4px 508.4px,#a02ca8 508.4px 526.3px,#9f2ba9 526.3px 556.3px,#9e2aa9 556.3px 574.2px,#9d2aaa 574.2px 592.1px,#9c29ab 592.1px 610.1px,#9b28ac 610.1px 652.0px,#9a28ad 652.0px 675.9px,#9927ae 675.9px 699.8px,#9826ae 699.8px 723.8px,#9725af 723.8px 729.7px)"></div>
<div style="position:absolute;left:151.50px;top:799px;width:729.75px;height:13px;background:linear-gradient(90deg,#e5ff44 0.0px 5.9px,#eab042 5.9px 11.8px,#e99246 11.8px 17.8px,#e7844d 17.8px 23.8px,#e57953 23.8px 29.8px,#e37157 29.8px 35.8px,#e26c59 35.8px 41.8px,#e0675c 41.8px 47.7px,#dd6360 47.7px 53.7px,#db6064 53.7px 59.7px,#d95d67 59.7px 65.7px,#d85b6a 65.7px 71.7px,#d7596c 71.7px 77.7px,#d5576e 77.7px 83.6px,#d45571 83.6px 89.6px,#d25373 89.6px 95.6px,#d15175 95.6px 101.6px,#d05076 101.6px 107.6px,#cf4e79 107.6px 113.5px,#ce4e7a 113.5px 119.5px,#cd4d7b 119.5px 125.5px,#cb4b7d 125.5px 131.5px,#cb4a7e 131.5px 137.5px,#ca4980 137.5px 143.5px,#c94881 143.5px 149.4px,#c84782 149.4px 155.4px,#c74683 155.4px 161.4px,#c64684 161.4px 167.4px,#c54585 167.4px 173.4px,#c44486 173.4px 179.4px,#c34387 179.4px 185.3px,#c24289 185.3px 191.3px,#c1418a 191.3px 197.3px,#c1428a 197.3px 203.3px,#bf418b 203.3px 209.3px,#be408c 209.3px 215.3px,#bd3f8d 215.3px 227.2px,#bc3f8e 227.2px 233.2px,#bb3e8f 233.2px 245.2px,#ba3d90 245.2px 251.1px,#b93c91 251.1px 263.1px,#b83b92 263.1px 269.1px,#b73a94 269.1px 275.1px,#b63b94 275.1px 281.1px,#b53a95 281.1px 293.0px,#b43996 293.0px 305.0px,#b33897 305.0px 317.0px,#b23798 317.0px 322.9px,#b23898 322.9px 328.9px,#b13799 328.9px 340.9px,#af369a 340.9px 352.8px,#ae359b 352.8px 370.8px,#ad349c 370.8px 376.8px,#ad349d 376.8px 382.8px,#ac339e 382.8px 394.7px,#ac349e 394.7px 400.7px,#aa339f 400.7px 412.7px,#a932a0 412.7px 430.6px,#a831a1 430.6px 442.6px,#a730a2 442.6px 460.5px,#a52fa3 460.5px 472.5px,#a530a3 472.5px 484.5px,#a42fa4 484.5px 496.4px,#a32ea5 496.4px 520.4px,#a22da6 520.4px 532.3px,#a22ea6 532.3px 544.3px,#a12da7 544.3px 562.2px,#a02ca8 562.2px 574.2px,#9f2ba9 574.2px 610.1px,#9e2aa9 610.1px 628.0px,#9d2aaa 628.0px 646.0px,#9c29ab 646.0px 669.9px,#9b28ac 669.9px 717.8px,#9a28ad 717.8px 729.7px)"></div>
<div style="position:absolute;left:151.50px;top:812px;width:729.75px;height:14px;background:linear-gradient(90deg,#e5ff44 0.0px 5.9px,#eab541 5.9px 11.8px,#e99745 11.8px 17.8px,#e8874c 17.8px 23.8px,#e67d50 23.8px 29.8px,#e47555 29.8px 35.8px,#e26f58 35.8px 41.8px,#e16a5b 41.8px 47.7px,#df665d 47.7px 53.7px,#dd6360 53.7px 59.7px,#db6064 59.7px 65.7px,#da5e66 65.7px 71.7px,#d85b69 71.7px 77.7px,#d7596c 77.7px 83.6px,#d6586d 83.6px 89.6px,#d5566f 89.6px 95.6px,#d35472 95.6px 101.6px,#d25274 101.6px 107.6px,#d15175 107.6px 113.5px,#d05176 113.5px 119.5px,#cf4e79 119.5px 125.5px,#ce4e7a 125.5px 131.5px,#cd4d7b 131.5px 137.5px,#cc4c7c 137.5px 143.5px,#cb4b7d 143.5px 149.4px,#cb4a7f 149.4px 155.4px,#ca4980 155.4px 161.4px,#c84782 161.4px 167.4px,#c74683 167.4px 179.4px,#c64684 179.4px 185.3px,#c54585 185.3px 191.3px,#c44486 191.3px 197.3px,#c34387 197.3px 203.3px,#c24288 203.3px 209.3px,#c24289 209.3px 215.3px,#c1428a 215.3px 221.2px,#c0418b 221.2px 227.2px,#bf418b 227.2px 233.2px,#be408c 233.2px 239.2px,#bd3f8d 239.2px 251.1px,#bc3e8e 251.1px 257.1px,#bc3f8e 257.1px 263.1px,#bb3e8f 263.1px 269.1px,#ba3d90 269.1px 281.1px,#b93c91 281.1px 287.0px,#b83b92 287.0px 299.0px,#b73a94 299.0px 305.0px,#b73b94 305.0px 311.0px,#b53a95 311.0px 322.9px,#b43996 322.9px 340.9px,#b33897 340.9px 352.8px,#b23798 352.8px 358.8px,#b23898 358.8px 364.8px,#b13799 364.8px 376.8px,#af369a 376.8px 388.7px,#ae359b 388.7px 412.7px,#ad349c 412.7px 418.7px,#ad349d 418.7px 424.6px,#ac339e 424.6px 436.6px,#ac349e 436.6px 442.6px,#aa339f 442.6px 460.5px,#a932a0 460.5px 478.5px,#a831a1 478.5px 490.4px,#a730a2 490.4px 514.4px,#a52fa3 514.4px 526.3px,#a530a3 526.3px 538.3px,#a42fa4 538.3px 550.3px,#a32ea5 550.3px 574.2px,#a22da6 574.2px 592.1px,#a22ea6 592.1px 604.1px,#a12da7 604.1px 622.1px,#a02ca8 622.1px 640.0px,#9f2ba9 640.0px 675.9px,#9e2aa9 675.9px 699.8px,#9d2aaa 699.8px 717.8px,#9c29ab 717.8px 729.7px)"></div>
<div style="position:absolute;left:151.50px;top:826px;width:729.75px;height:13px;background:linear-gradient(90deg,#e5ff44 0.0px 5.9px,#e9ba40 5.9px 11.8px,#ea9c45 11.8px 17.8px,#e88b4a 17.8px 23.8px,#e7814e 23.8px 29.8px,#e57953 29.8px 35.8px,#e37356 35.8px 41.8px,#e26d59 41.8px 47.7px,#e16a5b 47.7px 53.7px,#df665d 53.7px 59.7px,#dd6360 59.7px 65.7px,#dc6163 65.7px 71.7px,#db5f65 71.7px 77.7px,#d95c68 77.7px 83.6px,#d85b6a 83.6px 89.6px,#d7596c 89.6px 95.6px,#d5576e 95.6px 101.6px,#d5566f 101.6px 107.6px,#d35472 107.6px 113.5px,#d25373 113.5px 119.5px,#d15175 119.5px 125.5px,#d05076 125.5px 131.5px,#cf5077 131.5px 137.5px,#cf4f79 137.5px 143.5px,#ce4e7a 143.5px 149.4px,#cd4d7b 149.4px 155.4px,#cb4b7d 155.4px 167.4px,#cb4a7f 167.4px 173.4px,#ca4980 173.4px 179.4px,#c94881 179.4px 185.3px,#c84782 185.3px 191.3px,#c74683 191.3px 197.3px,#c64584 197.3px 203.3px,#c64684 203.3px 209.3px,#c54585 209.3px 215.3px,#c44486 215.3px 221.2px,#c34387 221.2px 233.2px,#c24289 233.2px 239.2px,#c1418a 239.2px 245.2px,#c1428a 245.2px 251.1px,#c0418b 251.1px 257.1px,#bf418b 257.1px 263.1px,#be408c 263.1px 269.1px,#bd3f8d 269.1px 281.1px,#bc3e8e 281.1px 287.0px,#bc3f8e 287.0px 293.0px,#bb3e8f 293.0px 305.0px,#ba3d90 305.0px 311.0px,#b93c91 311.0px 322.9px,#b83b92 322.9px 334.9px,#b73a94 334.9px 340.9px,#b73b94 340.9px 346.9px,#b63b94 346.9px 352.8px,#b53a95 352.8px 364.8px,#b43996 364.8px 382.8px,#b33897 382.8px 394.7px,#b23798 394.7px 406.7px,#b23898 406.7px 412.7px,#b13799 412.7px 424.6px,#af369a 424.6px 442.6px,#ae359b 442.6px 460.5px,#ad349c 460.5px 472.5px,#ad349d 472.5px 478.5px,#ac339e 478.5px 490.4px,#ac349e 490.4px 496.4px,#aa339f 496.4px 520.4px,#a932a0 520.4px 538.3px,#a831a1 538.3px 550.3px,#a730a2 550.3px 574.2px,#a52fa3 574.2px 592.1px,#a530a3 592.1px 604.1px,#a42fa4 604.1px 616.1px,#a32ea5 616.1px 646.0px,#a22da6 646.0px 663.9px,#a22ea6 663.9px 681.9px,#a12da7 681.9px 699.8px,#a02ca8 699.8px 717.8px,#9f2ba9 717.8px 729.7px)"></div>
<div style="position:absolute;left:151.50px;top:839px;width:729.75px;height:13px;background:linear-gradient(90deg,#e5ff44 0.0px 5.9px,#e8bf40 5.9px 11.8px,#eaa144 11.8px 17.8px,#e99147 17.8px 23.8px,#e7854c 23.8px 29.8px,#e67e50 29.8px 35.8px,#e57853 35.8px 41.8px,#e37356 41.8px 47.7px,#e26d59 47.7px 53.7px,#e16a5b 53.7px 59.7px,#e0675c 59.7px 65.7px,#de645f 65.7px 71.7px,#dd6262 71.7px 77.7px,#dc6064 77.7px 83.6px,#da5e66 83.6px 89.6px,#d95c68 89.6px 95.6px,#d85b6a 95.6px 101.6px,#d7596c 101.6px 107.6px,#d6586d 107.6px 113.5px,#d5566f 113.5px 119.5px,#d45571 119.5px 125.5px,#d35472 125.5px 131.5px,#d25274 131.5px 137.5px,#d15175 137.5px 143.5px,#d05076 143.5px 149.4px,#cf4f77 149.4px 155.4px,#cf4f79 155.4px 161.4px,#ce4e7a 161.4px 167.4px,#cd4d7b 167.4px 173.4px,#cc4c7c 173.4px 179.4px,#cb4b7d 179.4px 185.3px,#cb4a7e 185.3px 191.3px,#cb4a7f 191.3px 197.3px,#ca4980 197.3px 203.3px,#c94881 203.3px 209.3px,#c84782 209.3px 215.3px,#c74683 215.3px 227.2px,#c64584 227.2px 233.2px,#c64684 233.2px 239.2px,#c54585 239.2px 245.2px,#c44486 245.2px 257.1px,#c34387 257.1px 263.1px,#c24289 263.1px 275.1px,#c1428a 275.1px 287.0px,#c0418b 287.0px 293.0px,#bf418b 293.0px 299.0px,#be408c 299.0px 305.0px,#bd3f8d 305.0px 317.0px,#bc3e8e 317.0px 328.9px,#bc3f8e 328.9px 334.9px,#bb3e8f 334.9px 346.9px,#ba3d90 346.9px 358.8px,#b93c91 358.8px 370.8px,#b83b92 370.8px 382.8px,#b73a94 382.8px 388.7px,#b73b94 388.7px 394.7px,#b63b94 394.7px 400.7px,#b53a95 400.7px 418.7px,#b43996 418.7px 436.6px,#b33897 436.6px 448.6px,#b23798 448.6px 460.5px,#b23898 460.5px 472.5px,#b13799 472.5px 484.5px,#af369a 484.5px 502.4px,#ae359b 502.4px 526.3px,#ad349c 526.3px 538.3px,#ad349d 538.3px 550.3px,#ac339e 550.3px 556.3px,#ac349e 556.3px 568.2px,#aa339f 568.2px 592.1px,#a932a0 592.1px 616.1px,#a831a1 616.1px 628.0px,#a730a2 628.0px 658.0px,#a52fa3 658.0px 675.9px,#a530a3 675.9px 687.9px,#a42fa4 687.9px 705.8px,#a32ea5 705.8px 729.7px)"></div>
<div style="position:absolute;left:151.50px;top:852px;width:729.75px;height:13px;background:linear-gradient(90deg,#e5ff44 0.0px 5.9px,#e7c640 5.9px 11.8px,#eaa743 11.8px 17.8px,#e99745 17.8px 23.8px,#e88b4a 23.8px 29.8px,#e7844d 29.8px 35.8px,#e67d50 35.8px 41.8px,#e57853 41.8px 47.7px,#e37356 47.7px 53.7px,#e26f58 53.7px 59.7px,#e26c59 59.7px 65.7px,#e0685b 65.7px 71.7px,#df665d 71.7px 77.7px,#de645f 77.7px 83.6px,#dd6262 83.6px 89.6px,#db6064 89.6px 95.6px,#db5f65 95.6px 101.6px,#d95d67 101.6px 107.6px,#d85b69 107.6px 113.5px,#d75a6b 113.5px 119.5px,#d7596c 119.5px 125.5px,#d6586d 125.5px 131.5px,#d5566f 131.5px 137.5px,#d45570 137.5px 143.5px,#d35472 143.5px 149.4px,#d25373 149.4px 155.4px,#d25274 155.4px 161.4px,#d15175 161.4px 167.4px,#d05076 167.4px 173.4px,#cf4f77 173.4px 179.4px,#cf4e79 179.4px 185.3px,#ce4d7a 185.3px 191.3px,#ce4e7a 191.3px 197.3px,#cd4d7b 197.3px 203.3px,#cc4c7c 203.3px 209.3px,#cb4b7d 209.3px 221.2px,#cb4a7f 221.2px 227.2px,#ca4980 227.2px 239.2px,#c94881 239.2px 245.2px,#c84782 245.2px 251.1px,#c74683 251.1px 263.1px,#c64584 263.1px 269.1px,#c64684 269.1px 275.1px,#c54585 275.1px 287.0px,#c44486 287.0px 299.0px,#c34387 299.0px 305.0px,#c24288 305.0px 311.0px,#c24289 311.0px 317.0px,#c24389 317.0px 322.9px,#c1428a 322.9px 334.9px,#c0418b 334.9px 340.9px,#bf418b 340.9px 346.9px,#be408c 346.9px 358.8px,#bd3f8d 358.8px 370.8px,#bc3e8e 370.8px 382.8px,#bc3f8e 382.8px 388.7px,#bb3e8f 388.7px 400.7px,#ba3d90 400.7px 418.7px,#b93c91 418.7px 430.6px,#b83b92 430.6px 442.6px,#b83b93 442.6px 448.6px,#b73a94 448.6px 454.6px,#b73b94 454.6px 460.5px,#b63b94 460.5px 466.5px,#b53a95 466.5px 484.5px,#b43996 484.5px 508.4px,#b33897 508.4px 526.3px,#b23798 526.3px 538.3px,#b23898 538.3px 550.3px,#b13799 550.3px 568.2px,#af369a 568.2px 586.2px,#ae359b 586.2px 616.1px,#ad349c 616.1px 628.0px,#ad349d 628.0px 640.0px,#ac339e 640.0px 652.0px,#ac349e 652.0px 663.9px,#aa339f 663.9px 687.9px,#a932a0 687.9px 717.8px,#a831a1 717.8px 729.7px)"></div>
<div style="position:absolute;left:151.50px;top:865px;width:729.75px;height:13px;background:linear-gradient(90deg,#e5ff44 0.0px 5.9px,#e8cf40 5.9px 11.8px,#eab042 11.8px 17.8px,#ea9f44 17.8px 23.8px,#e99246 23.8px 29.8px,#e88a4a 29.8px 35.8px,#e7844d 35.8px 41.8px,#e67e50 41.8px 47.7px,#e57953 47.7px 53.7px,#e47555 53.7px 59.7px,#e37157 59.7px 65.7px,#e26f58 65.7px 71.7px,#e26c59 71.7px 77.7px,#e16a5b 77.7px 83.6px,#e0675c 83.6px 89.6px,#df655e 89.6px 95.6px,#dd6360 95.6px 101.6px,#dd6262 101.6px 107.6px,#db6064 107.6px 113.5px,#db5f65 113.5px 119.5px,#d95d67 119.5px 125.5px,#d95c68 125.5px 131.5px,#d85b6a 131.5px 137.5px,#d75a6b 137.5px 143.5px,#d7596c 143.5px 149.4px,#d6586d 149.4px 155.4px,#d5576e 155.4px 161.4px,#d5566f 161.4px 167.4px,#d45571 167.4px 173.4px,#d35472 173.4px 179.4px,#d25373 179.4px 185.3px,#d25274 185.3px 191.3px,#d15175 191.3px 197.3px,#d05076 197.3px 209.3px,#cf4f77 209.3px 215.3px,#cf4e79 215.3px 221.2px,#cf4f79 221.2px 227.2px,#ce4e7a 227.2px 233.2px,#cd4d7b 233.2px 245.2px,#cc4c7c 245.2px 251.1px,#cb4b7d 251.1px 263.1px,#cb4a7e 263.1px 269.1px,#cb4a7f 269.1px 275.1px,#ca4980 275.1px 281.1px,#c94881 281.1px 293.0px,#c84782 293.0px 305.0px,#c74683 305.0px 317.0px,#c64584 317.0px 322.9px,#c64684 322.9px 328.9px,#c54585 328.9px 340.9px,#c44486 340.9px 352.8px,#c34387 352.8px 364.8px,#c24288 364.8px 370.8px,#c24289 370.8px 382.8px,#c1418a 382.8px 388.7px,#c1428a 388.7px 400.7px,#c0418b 400.7px 406.7px,#bf418b 406.7px 412.7px,#be408c 412.7px 430.6px,#bd3f8d 430.6px 448.6px,#bc3e8e 448.6px 454.6px,#bc3f8e 454.6px 466.5px,#bb3e8f 466.5px 484.5px,#ba3d90 484.5px 502.4px,#b93c91 502.4px 520.4px,#b83b92 520.4px 532.3px,#b83b93 532.3px 538.3px,#b73a94 538.3px 544.3px,#b73b94 544.3px 550.3px,#b63b94 550.3px 562.2px,#b53a95 562.2px 586.2px,#b43996 586.2px 610.1px,#b33897 610.1px 628.0px,#b23798 628.0px 646.0px,#b23898 646.0px 658.0px,#b13799 658.0px 681.9px,#af369a 681.9px 699.8px,#ae359b 699.8px 729.7px)"></div>
<div style="position:absolute;left:151.50px;top:878px;width:729.75px;height:14px;background:linear-gradient(90deg,#e5ff44 0.0px 5.9px,#e8d940 5.9px 11.8px,#e9ba40 11.8px 17.8px,#eaa743 17.8px 23.8px,#ea9c45 23.8px 29.8px,#e99246 29.8px 35.8px,#e88b4a 35.8px 41.8px,#e7854c 41.8px 47.7px,#e7814e 47.7px 53.7px,#e67d50 53.7px 59.7px,#e57953 59.7px 65.7px,#e47654 65.7px 71.7px,#e37356 71.7px 77.7px,#e37057 77.7px 83.6px,#e26d59 83.6px 89.6px,#e26c59 89.6px 95.6px,#e16a5b 95.6px 101.6px,#e0675c 101.6px 107.6px,#df665d 107.6px 113.5px,#df655e 113.5px 119.5px,#dd6360 119.5px 125.5px,#dd6262 125.5px 131.5px,#dc6163 131.5px 137.5px,#dc6064 137.5px 143.5px,#db5f65 143.5px 149.4px,#d95d67 149.4px 155.4px,#d95c68 155.4px 161.4px,#d85b69 161.4px 167.4px,#d85b6a 167.4px 173.4px,#d75a6b 173.4px 179.4px,#d7596c 179.4px 185.3px,#d6586d 185.3px 191.3px,#d5576e 191.3px 197.3px,#d5566f 197.3px 209.3px,#d45571 209.3px 215.3px,#d35472 215.3px 221.2px,#d25373 221.2px 233.2px,#d25274 233.2px 239.2px,#d15175 239.2px 251.1px,#d05076 251.1px 257.1px,#cf4f77 257.1px 263.1px,#cf5077 263.1px 269.1px,#cf4e79 269.1px 275.1px,#cf4f79 275.1px 281.1px,#ce4e7a 281.1px 293.0px,#cd4d7b 293.0px 305.0px,#cc4c7c 305.0px 311.0px,#cb4b7d 311.0px 328.9px,#cb4a7e 328.9px 334.9px,#cb4a7f 334.9px 340.9px,#ca4980 340.9px 352.8px,#c94881 352.8px 364.8px,#c84782 364.8px 376.8px,#c74683 376.8px 394.7px,#c64584 394.7px 400.7px,#c64684 400.7px 412.7px,#c54585 412.7px 424.6px,#c44486 424.6px 442.6px,#c34387 442.6px 460.5px,#c24289 460.5px 472.5px,#c24389 472.5px 478.5px,#c1418a 478.5px 484.5px,#c1428a 484.5px 496.4px,#c0418b 496.4px 508.4px,#bf418b 508.4px 520.4px,#be408c 520.4px 532.3px,#bd3f8d 532.3px 556.3px,#bc3e8e 556.3px 568.2px,#bc3f8e 568.2px 580.2px,#bb3e8f 580.2px 604.1px,#ba3d90 604.1px 622.1px,#b93c91 622.1px 646.0px,#b83b92 646.0px 663.9px,#b83b93 663.9px 669.9px,#b73a94 669.9px 681.9px,#b73b94 681.9px 687.9px,#b63b94 687.9px 699.8px,#b53a95 699.8px 729.7px)"></div>
<div style="position:absolute;left:151.50px;top:892px;width:729.75px;height:13px;background:linear-gradient(90deg,#e5ff44 0.0px 5.9px,#e8e643 5.9px 11.8px,#e7c640 11.8px 17.8px,#eab541 17.8px 23.8px,#eaa743 23.8px 29.8px,#ea9f44 29.8px 35.8px,#e99745 35.8px 41.8px,#e99147 41.8px 47.7px,#e88b4a 47.7px 53.7px,#e8874c 53.7px 59.7px,#e7844d 59.7px 65.7px,#e6804f 65.7px 71.7px,#e67d50 71.7px 77.7px,#e57a52 77.7px 83.6px,#e57853 83.6px 89.6px,#e47555 89.6px 95.6px,#e37356 95.6px 101.6px,#e37157 101.6px 107.6px,#e26f58 107.6px 113.5px,#e26d59 113.5px 119.5px,#e26c59 119.5px 125.5px,#e16a5b 125.5px 131.5px,#e0685b 131.5px 137.5px,#e0675c 137.5px 143.5px,#df665d 143.5px 149.4px,#df655e 149.4px 155.4px,#de645f 155.4px 161.4px,#dd6360 161.4px 167.4px,#dd6262 167.4px 173.4px,#dc6163 173.4px 179.4px,#db6064 179.4px 185.3px,#db5f65 185.3px 197.3px,#da5e66 197.3px 203.3px,#d95d67 203.3px 209.3px,#d95c68 209.3px 215.3px,#d85b69 215.3px 221.2px,#d85b6a 221.2px 227.2px,#d75a6b 227.2px 233.2px,#d7596c 233.2px 245.2px,#d6586d 245.2px 257.1px,#d5576e 257.1px 263.1px,#d5566f 263.1px 275.1px,#d45570 275.1px 281.1px,#d45571 281.1px 287.0px,#d35472 287.0px 299.0px,#d25373 299.0px 305.0px,#d25274 305.0px 317.0px,#d15175 317.0px 328.9px,#d05076 328.9px 340.9px,#d05176 340.9px 346.9px,#cf4f77 346.9px 352.8px,#cf5078 352.8px 358.8px,#cf4e79 358.8px 364.8px,#cf4f79 364.8px 370.8px,#ce4d7a 370.8px 376.8px,#ce4e7a 376.8px 388.7px,#cd4d7b 388.7px 400.7px,#cc4c7c 400.7px 418.7px,#cb4b7d 418.7px 436.6px,#cb4a7e 436.6px 442.6px,#cb4a7f 442.6px 454.6px,#ca4980 454.6px 472.5px,#c94881 472.5px 484.5px,#c84782 484.5px 502.4px,#c74683 502.4px 526.3px,#c64584 526.3px 532.3px,#c64684 532.3px 550.3px,#c54585 550.3px 568.2px,#c44486 568.2px 592.1px,#c34387 592.1px 610.1px,#c24288 610.1px 616.1px,#c24289 616.1px 634.0px,#c24389 634.0px 640.0px,#c1418a 640.0px 646.0px,#c1428a 646.0px 663.9px,#c0418b 663.9px 675.9px,#bf418b 675.9px 687.9px,#be408c 687.9px 711.8px,#bd3f8d 711.8px 729.7px)"></div>
<div style="position:absolute;left:151.50px;top:905px;width:729.75px;height:13px;background:linear-gradient(90deg,#e5ff44 0.0px 5.9px,#e5fa48 5.9px 11.8px,#e8d940 11.8px 17.8px,#e7c640 17.8px 23.8px,#e9ba40 23.8px 29.8px,#eab042 29.8px 35.8px,#eaa743 35.8px 41.8px,#eaa144 41.8px 47.7px,#ea9c45 47.7px 53.7px,#e99745 53.7px 59.7px,#e99246 59.7px 65.7px,#e98f47 65.7px 71.7px,#e88b4a 71.7px 77.7px,#e8884b 77.7px 83.6px,#e7854c 83.6px 89.6px,#e7844d 89.6px 95.6px,#e7814e 95.6px 101.6px,#e67f50 101.6px 107.6px,#e67d50 107.6px 113.5px,#e57b52 113.5px 119.5px,#e57953 119.5px 125.5px,#e57853 125.5px 131.5px,#e47654 131.5px 137.5px,#e47554 137.5px 143.5px,#e37356 143.5px 149.4px,#e37157 149.4px 155.4px,#e37057 155.4px 161.4px,#e26f58 161.4px 167.4px,#e26d59 167.4px 179.4px,#e26c59 179.4px 185.3px,#e16b5a 185.3px 191.3px,#e16a5b 191.3px 197.3px,#e0685b 197.3px 203.3px,#e0675c 203.3px 215.3px,#df665d 215.3px 221.2px,#df655e 221.2px 233.2px,#de645f 233.2px 239.2px,#dd6360 239.2px 245.2px,#dd6361 245.2px 251.1px,#dd6262 251.1px 257.1px,#dc6163 257.1px 269.1px,#db6064 269.1px 275.1px,#dc6064 275.1px 281.1px,#db5f65 281.1px 293.0px,#da5e66 293.0px 299.0px,#d95d67 299.0px 311.0px,#d95c68 311.0px 322.9px,#d85b69 322.9px 328.9px,#d85b6a 328.9px 340.9px,#d75a6b 340.9px 352.8px,#d7596c 352.8px 364.8px,#d6586d 364.8px 382.8px,#d5576e 382.8px 394.7px,#d5566f 394.7px 412.7px,#d45570 412.7px 418.7px,#d45571 418.7px 424.6px,#d35471 424.6px 430.6px,#d35472 430.6px 442.6px,#d25373 442.6px 460.5px,#d25274 460.5px 478.5px,#d15175 478.5px 496.4px,#d05076 496.4px 514.4px,#cf4f77 514.4px 526.3px,#cf5077 526.3px 532.3px,#cf5078 532.3px 538.3px,#cf4e79 538.3px 544.3px,#cf4f79 544.3px 556.3px,#ce4d7a 556.3px 562.2px,#ce4e7a 562.2px 580.2px,#cd4d7b 580.2px 604.1px,#cc4c7c 604.1px 622.1px,#cb4b7d 622.1px 652.0px,#cb4a7e 652.0px 663.9px,#cb4a7f 663.9px 675.9px,#ca4980 675.9px 705.8px,#c94881 705.8px 729.7px)"></div>
<div style="position:absolute;left:151.50px;top:918px;width:729.75px;height:13px;background:linear-gradient(90deg,#e5ff44 0.0px 11.8px,#e5fa48 11.8px 17.8px,#e8e643 17.8px 23.8px,#e8d940 23.8px 29.8px,#e8cf40 29.8px 35.8px,#e7c640 35.8px 41.8px,#e8bf40 41.8px 47.7px,#e9ba40 47.7px 53.7px,#eab541 53.7px 59.7px,#eab042 59.7px 65.7px,#eaac42 65.7px 71.7px,#eaa743 71.7px 77.7px,#eaa443 77.7px 83.6px,#eaa144 83.6px 89.6px,#ea9f44 89.6px 95.6px,#ea9c45 95.6px 101.6px,#e99945 101.6px 107.6px,#e99745 107.6px 113.5px,#e99446 113.5px 119.5px,#e99246 119.5px 125.5px,#e99147 125.5px 131.5px,#e98f47 131.5px 137.5px,#e88c49 137.5px 143.5px,#e88b4a 143.5px 149.4px,#e88a4a 149.4px 155.4px,#e8884b 155.4px 161.4px,#e8874c 161.4px 167.4px,#e7854c 167.4px 173.4px,#e7844d 173.4px 185.3px,#e7834e 185.3px 191.3px,#e7814e 191.3px 197.3px,#e6804f 197.3px 203.3px,#e67f50 203.3px 209.3px,#e67e50 209.3px 215.3px,#e67d50 215.3px 221.2px,#e67c51 221.2px 227.2px,#e57b52 227.2px 233.2px,#e57a52 233.2px 239.2px,#e57953 239.2px 245.2px,#e57952 245.2px 251.1px,#e57853 251.1px 257.1px,#e47754 257.1px 263.1px,#e47654 263.1px 269.1px,#e47555 269.1px 275.1px,#e47554 275.1px 281.1px,#e47455 281.1px 287.0px,#e37356 287.0px 299.0px,#e37157 299.0px 311.0px,#e37057 311.0px 322.9px,#e26f58 322.9px 334.9px,#e26d59 334.9px 352.8px,#e16c59 352.8px 358.8px,#e26c59 358.8px 364.8px,#e16b5a 364.8px 376.8px,#e16a5b 376.8px 394.7px,#e0685b 394.7px 406.7px,#e0675c 406.7px 424.6px,#df665d 424.6px 442.6px,#df655e 442.6px 460.5px,#de645f 460.5px 478.5px,#dd6360 478.5px 490.4px,#dd6361 490.4px 496.4px,#dd6261 496.4px 502.4px,#dd6262 502.4px 514.4px,#dc6163 514.4px 532.3px,#db6064 532.3px 544.3px,#dc6064 544.3px 556.3px,#db5f65 556.3px 580.2px,#da5e66 580.2px 598.1px,#d95d67 598.1px 616.1px,#da5d67 616.1px 622.1px,#d95c68 622.1px 646.0px,#d85b69 646.0px 658.0px,#d85b6a 658.0px 675.9px,#d75a6b 675.9px 699.8px,#d7596c 699.8px 729.7px)"></div>
<div style="position:absolute;left:157.50px;top:273px;width:723.75px;height:658px;box-shadow:inset 0 1px 0 rgba(0,0,0,.22),inset -1px 0 0 rgba(0,0,0,.22),inset 0 -1px 0 rgba(0,0,0,.12)"></div>
<div style="position:absolute;left:183px;top:96px;width:667px;height:10.8px;box-shadow:inset 0 1.5px 0 rgba(40,40,40,.15),inset 0 -1.5px 0 rgba(40,40,40,.15);background:linear-gradient(90deg,#1e0a9c 0.0%,#2c0aa1 2.5%,#360ba5 5.0%,#400ca9 7.5%,#480dac 10.0%,#510eae 12.5%,#5b0fb2 15.0%,#6411b5 17.5%,#6f13b7 20.0%,#7816b9 22.5%,#821bb9 25.0%,#891db7 27.5%,#9020b4 30.0%,#9725af 32.5%,#9d2aaa 35.0%,#a42fa4 37.5%,#ac349e 40.0%,#b33897 42.5%,#bb3e8f 45.0%,#c24289 47.5%,#c94881 50.0%,#ce4e7a 52.5%,#d25373 55.0%,#d75a6b 57.5%,#db6064 60.0%,#e0675c 62.5%,#e26f58 65.0%,#e47754 67.5%,#e7804f 70.0%,#e8884b 72.5%,#e99246 75.0%,#ea9c45 77.5%,#eaa643 80.0%,#eab141 82.5%,#e9bc41 85.0%,#e7c840 87.5%,#e8d240 90.0%,#e9dd41 92.5%,#e8e944 95.0%,#e6f448 97.5%,#e5ff44 100.0%)"></div>
<svg width="1500" height="1056" style="position:absolute;left:0;top:0;will-change:transform">
<line x1="114.85" y1="239.50" x2="114.85" y2="971.00" stroke="#000" stroke-width="4.0" />
<line x1="114.85" y1="971.00" x2="917.40" y2="971.00" stroke="#000" stroke-width="3.9" />
<line x1="104.00" y1="937.60" x2="114.85" y2="937.60" stroke="#222222" stroke-width="3.4" />
<text transform="translate(94.80 948.10) scale(1.0 1.03)" font-size="26.6" fill="#262626" text-anchor="end" >0</text>
<line x1="104.00" y1="805.90" x2="114.85" y2="805.90" stroke="#222222" stroke-width="3.4" />
<text transform="translate(94.80 816.40) scale(1.0 1.03)" font-size="26.6" fill="#262626" text-anchor="end" >10</text>
<line x1="104.00" y1="674.20" x2="114.85" y2="674.20" stroke="#222222" stroke-width="3.4" />
<text transform="translate(94.80 684.70) scale(1.0 1.03)" font-size="26.6" fill="#262626" text-anchor="end" >20</text>
<line x1="104.00" y1="542.50" x2="114.85" y2="542.50" stroke="#222222" stroke-width="3.4" />
<text transform="translate(94.80 553.00) scale(1.0 1.03)" font-size="26.6" fill="#262626" text-anchor="end" >30</text>
<line x1="104.00" y1="410.80" x2="114.85" y2="410.80" stroke="#222222" stroke-width="3.4" />
<text transform="translate(94.80 421.30) scale(1.0 1.03)" font-size="26.6" fill="#262626" text-anchor="end" >40</text>
<line x1="104.00" y1="279.10" x2="114.85" y2="279.10" stroke="#222222" stroke-width="3.4" />
<text transform="translate(94.80 289.60) scale(1.0 1.03)" font-size="26.6" fill="#262626" text-anchor="end" >50</text>
<line x1="154.40" y1="971.00" x2="154.40" y2="981.60" stroke="#222222" stroke-width="3.6" />
<text transform="translate(154.40 1010.00) scale(1.0 1.03)" font-size="26.6" fill="#262626" text-anchor="middle" >0.0</text>
<line x1="393.70" y1="971.00" x2="393.70" y2="981.60" stroke="#222222" stroke-width="3.6" />
<text transform="translate(393.70 1010.00) scale(1.0 1.03)" font-size="26.6" fill="#262626" text-anchor="middle" >0.2</text>
<line x1="633.00" y1="971.00" x2="633.00" y2="981.60" stroke="#222222" stroke-width="3.6" />
<text transform="translate(633.00 1010.00) scale(1.0 1.03)" font-size="26.6" fill="#262626" text-anchor="middle" >0.4</text>
<line x1="872.30" y1="971.00" x2="872.30" y2="981.60" stroke="#222222" stroke-width="3.6" />
<text transform="translate(872.30 1010.00) scale(1.0 1.03)" font-size="26.6" fill="#262626" text-anchor="middle" >0.6</text>
<text transform="translate(516.80 1046.40) scale(1.0 1.02)" font-size="27.4" fill="#000" text-anchor="middle" >Probability of death following infection</text>
<text transform="translate(48.60 605.00) rotate(-90) scale(1.0 1.02)" font-size="27.2" fill="#000" text-anchor="middle" >Attack rate (%)</text>
<path d="M154.26 937.6 V913 M148.86 921.3 L154.26 912.9 L159.66 921.3" stroke="#000" stroke-width="4" fill="none"/>
<path d="M166.17 937.6 V913 M160.77 921.3 L166.17 912.9 L171.57 921.3" stroke="#000" stroke-width="4" fill="none"/>
<path d="M872.10 937.6 V913 M866.70 921.3 L872.10 912.9 L877.50 921.3" stroke="#000" stroke-width="4" fill="none"/>
<text transform="translate(516.40 71.00) scale(1.0 1.02)" font-size="27.2" fill="#000" text-anchor="middle" >Sample size</text>
<text transform="translate(230.20 145.50) scale(1.0 0.92)" font-size="23.6" fill="#000" text-anchor="middle" >2</text>
<text transform="translate(385.40 145.50) scale(1.0 0.92)" font-size="23.6" fill="#000" text-anchor="middle" >20</text>
<text transform="translate(539.50 145.50) scale(1.0 0.92)" font-size="23.6" fill="#000" text-anchor="middle" >200</text>
<text transform="translate(693.60 145.50) scale(1.0 0.92)" font-size="23.6" fill="#000" text-anchor="middle" >2000</text>
<text transform="translate(848.30 145.50) scale(1.0 0.92)" font-size="23.6" fill="#000" text-anchor="middle" >&gt;20,000</text>
<text transform="translate(0.60 43.20) scale(0.92 1.04)" font-size="52" fill="#000" text-anchor="start" >a</text>
<text transform="translate(933.90 42.90)" font-size="51.2" fill="#000" text-anchor="start" >b</text>
<rect x="1097.25" y="152.15" width="396.80" height="84.90" fill="none" stroke="#000" stroke-width="3.9"/>
<text transform="translate(1295.40 189.60) scale(1.0 1.02)" font-size="27.3" fill="#1a1a1a" text-anchor="middle" >CHIKV 18-64 years</text>
<text transform="translate(1298.70 218.90) scale(1.0 1.02)" font-size="27.3" fill="#1a1a1a" text-anchor="middle" >(0.005%)</text>
<line x1="1094.60" y1="239.00" x2="1094.60" y2="404.80" stroke="#000" stroke-width="4.0" />
<line x1="1084.20" y1="260.60" x2="1094.60" y2="260.60" stroke="#222222" stroke-width="3.4" />
<text transform="translate(1074.80 270.80) scale(1.0 1.03)" font-size="26.6" fill="#262626" text-anchor="end" >1e+06</text>
<line x1="1084.20" y1="312.14" x2="1094.60" y2="312.14" stroke="#222222" stroke-width="3.4" />
<text transform="translate(1074.80 322.34) scale(1.0 1.03)" font-size="26.6" fill="#262626" text-anchor="end" >1e+04</text>
<line x1="1084.20" y1="363.69" x2="1094.60" y2="363.69" stroke="#222222" stroke-width="3.4" />
<text transform="translate(1074.80 373.89) scale(1.0 1.03)" font-size="26.6" fill="#262626" text-anchor="end" >1e+02</text>
<polyline points="1112.74,246.77 1120.19,254.53 1127.63,259.07 1135.07,262.29 1142.51,264.78 1149.96,266.82 1157.40,268.55 1164.84,270.04 1172.29,271.36 1179.73,272.54 1187.17,273.61 1194.62,274.58 1202.06,275.48 1209.50,276.31 1216.94,277.08 1224.39,277.80 1231.83,278.48 1239.27,279.12 1246.72,279.73 1254.16,280.30 1261.60,280.85 1269.05,281.37 1276.49,281.87 1283.93,282.34 1291.38,282.80 1298.82,283.24 1306.26,283.66 1313.70,284.07 1321.15,284.46 1328.59,284.84 1336.03,285.21 1343.48,285.56 1350.92,285.91 1358.36,286.24 1365.80,286.57 1373.25,286.88 1380.69,287.19 1388.13,287.49 1395.58,287.78 1403.02,288.06 1410.46,288.34 1417.91,288.61 1425.35,288.87 1432.79,289.13 1440.23,289.38 1447.68,289.62 1455.12,289.86 1462.56,290.10 1470.01,290.33 1477.45,290.56" fill="none" stroke="#e3645f" stroke-width="3.7" stroke-linejoin="round"/>
<line x1="1094.60" y1="264.78" x2="1496.00" y2="264.78" stroke="#000" stroke-width="4.1" stroke-dasharray="16.6 17"/>
<line x1="1142.51" y1="404.80" x2="1142.51" y2="239.00" stroke="#000" stroke-width="4.0" stroke-dasharray="16.6 17"/>
<rect x="1097.25" y="435.15" width="396.80" height="84.90" fill="none" stroke="#000" stroke-width="3.9"/>
<text transform="translate(1295.60 487.80) scale(1.0 1.02)" font-size="27.3" fill="#1a1a1a" text-anchor="middle" >SARS-CoV-2 (1%)</text>
<line x1="1094.60" y1="522.00" x2="1094.60" y2="687.80" stroke="#000" stroke-width="4.0" />
<line x1="1084.20" y1="543.60" x2="1094.60" y2="543.60" stroke="#222222" stroke-width="3.4" />
<text transform="translate(1074.80 553.80) scale(1.0 1.03)" font-size="26.6" fill="#262626" text-anchor="end" >1e+06</text>
<line x1="1084.20" y1="595.14" x2="1094.60" y2="595.14" stroke="#222222" stroke-width="3.4" />
<text transform="translate(1074.80 605.34) scale(1.0 1.03)" font-size="26.6" fill="#262626" text-anchor="end" >1e+04</text>
<line x1="1084.20" y1="646.69" x2="1094.60" y2="646.69" stroke="#222222" stroke-width="3.4" />
<text transform="translate(1074.80 656.89) scale(1.0 1.03)" font-size="26.6" fill="#262626" text-anchor="end" >1e+02</text>
<polyline points="1112.74,589.07 1120.19,596.83 1127.63,601.37 1135.07,604.59 1142.51,607.09 1149.96,609.13 1157.40,610.86 1164.84,612.35 1172.29,613.67 1179.73,614.85 1187.17,615.92 1194.62,616.89 1202.06,617.79 1209.50,618.62 1216.94,619.39 1224.39,620.11 1231.83,620.80 1239.27,621.43 1246.72,622.04 1254.16,622.61 1261.60,623.15 1269.05,623.68 1276.49,624.18 1283.93,624.66 1291.38,625.10 1298.82,625.55 1306.26,625.97 1313.70,626.38 1321.15,626.77 1328.59,627.15 1336.03,627.53 1343.48,627.88 1350.92,628.22 1358.36,628.54 1365.80,628.88 1373.25,629.20 1380.69,629.49 1388.13,629.81 1395.58,630.08 1403.02,630.36 1410.46,630.65 1417.91,630.93 1425.35,631.17 1432.79,631.43 1440.23,631.69 1447.68,631.93 1455.12,632.17 1462.56,632.42 1470.01,632.64 1477.45,632.86" fill="none" stroke="#46c23b" stroke-width="3.7" stroke-linejoin="round"/>
<line x1="1094.60" y1="607.09" x2="1496.00" y2="607.09" stroke="#000" stroke-width="4.1" stroke-dasharray="16.6 17"/>
<line x1="1142.51" y1="687.80" x2="1142.51" y2="522.00" stroke="#000" stroke-width="4.0" stroke-dasharray="16.6 17"/>
<rect x="1097.25" y="718.35" width="396.80" height="84.90" fill="none" stroke="#000" stroke-width="3.9"/>
<text transform="translate(1295.60 771.00) scale(1.0 1.02)" font-size="27.3" fill="#1a1a1a" text-anchor="middle" >EV (60%)</text>
<line x1="1094.60" y1="805.20" x2="1094.60" y2="971.00" stroke="#000" stroke-width="4.0" />
<line x1="1084.20" y1="826.80" x2="1094.60" y2="826.80" stroke="#222222" stroke-width="3.4" />
<text transform="translate(1074.80 837.00) scale(1.0 1.03)" font-size="26.6" fill="#262626" text-anchor="end" >1e+06</text>
<line x1="1084.20" y1="878.34" x2="1094.60" y2="878.34" stroke="#222222" stroke-width="3.4" />
<text transform="translate(1074.80 888.54) scale(1.0 1.03)" font-size="26.6" fill="#262626" text-anchor="end" >1e+04</text>
<line x1="1084.20" y1="929.89" x2="1094.60" y2="929.89" stroke="#222222" stroke-width="3.4" />
<text transform="translate(1074.80 940.09) scale(1.0 1.03)" font-size="26.6" fill="#262626" text-anchor="end" >1e+02</text>
<polyline points="1112.74,918.13 1120.19,925.89 1127.63,930.47 1135.07,933.73 1142.51,936.18 1149.96,938.34 1157.40,939.87 1164.84,941.64 1172.29,943.00 1179.73,944.14 1187.17,944.97 1194.62,945.87 1202.06,946.84 1209.50,947.91 1216.94,948.48 1224.39,949.09 1231.83,950.40 1239.27,950.40 1246.72,951.13 1254.16,951.90 1261.60,952.73 1269.05,952.73 1276.49,953.62 1283.93,953.62 1291.38,954.60 1298.82,954.60 1306.26,955.66 1313.70,955.66 1321.15,956.84 1328.59,956.84 1336.03,956.84 1343.48,956.84 1350.92,958.16 1358.36,958.16 1365.80,958.16 1373.25,958.16 1380.69,959.66 1388.13,959.66 1395.58,959.66 1403.02,959.66 1410.46,959.66 1417.91,961.38 1425.35,961.38 1432.79,961.38 1440.23,961.38 1447.68,961.38 1455.12,961.38 1462.56,961.38 1470.01,963.42 1477.45,963.42" fill="none" stroke="#6598f2" stroke-width="3.7" stroke-linejoin="round"/>
<line x1="1094.60" y1="936.18" x2="1496.00" y2="936.18" stroke="#000" stroke-width="4.1" stroke-dasharray="16.6 17"/>
<line x1="1142.51" y1="971.00" x2="1142.51" y2="805.20" stroke="#000" stroke-width="4.0" stroke-dasharray="16.6 17"/>
<line x1="1094.60" y1="971.10" x2="1496.00" y2="971.10" stroke="#000" stroke-width="3.9" />
<line x1="1105.30" y1="971.00" x2="1105.30" y2="981.40" stroke="#222222" stroke-width="3.6" />
<text transform="translate(1105.30 1010.00) scale(1.0 1.03)" font-size="26.6" fill="#262626" text-anchor="middle" >0</text>
<line x1="1179.73" y1="971.00" x2="1179.73" y2="981.40" stroke="#222222" stroke-width="3.6" />
<text transform="translate(1179.73 1010.00) scale(1.0 1.03)" font-size="26.6" fill="#262626" text-anchor="middle" >10</text>
<line x1="1254.16" y1="971.00" x2="1254.16" y2="981.40" stroke="#222222" stroke-width="3.6" />
<text transform="translate(1254.16 1010.00) scale(1.0 1.03)" font-size="26.6" fill="#262626" text-anchor="middle" >20</text>
<line x1="1328.59" y1="971.00" x2="1328.59" y2="981.40" stroke="#222222" stroke-width="3.6" />
<text transform="translate(1328.59 1010.00) scale(1.0 1.03)" font-size="26.6" fill="#262626" text-anchor="middle" >30</text>
<line x1="1403.02" y1="971.00" x2="1403.02" y2="981.40" stroke="#222222" stroke-width="3.6" />
<text transform="translate(1403.02 1010.00) scale(1.0 1.03)" font-size="26.6" fill="#262626" text-anchor="middle" >40</text>
<line x1="1477.45" y1="971.00" x2="1477.45" y2="981.40" stroke="#222222" stroke-width="3.6" />
<text transform="translate(1477.45 1010.00) scale(1.0 1.03)" font-size="26.6" fill="#262626" text-anchor="middle" >50</text>
<text transform="translate(1295.00 1045.20) scale(1.0 1.02)" font-size="27.1" fill="#000" text-anchor="middle" >Attack rate (%)</text>
<text transform="translate(981.80 604.80) rotate(-90) scale(1.0 1.02)" font-size="27.4" fill="#000" text-anchor="middle" >Sample size</text>
</svg>
</div></body></html>
